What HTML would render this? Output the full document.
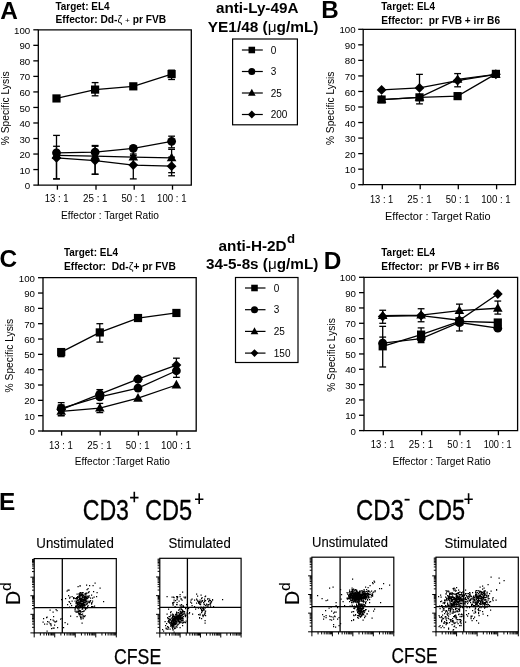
<!DOCTYPE html><html><head><meta charset="utf-8"><style>html,body{margin:0;padding:0;background:#fff;width:520px;height:667px;overflow:hidden}svg{display:block;filter:grayscale(1)}</style></head><body><svg width="520" height="667" viewBox="0 0 520 667" font-family="'Liberation Sans', sans-serif" fill="#000">
<rect width="520" height="667" fill="#fff"/>
<path d="M38.3,29.8H191.3V185.1H38.3Z" fill="none" stroke="#000" stroke-width="1.3"/>
<line x1="33.3" y1="185.10" x2="38.3" y2="185.10" stroke="#000" stroke-width="1.3"/>
<text x="30.2" y="189.2" font-size="9.7" text-anchor="end" >0</text>
<line x1="33.3" y1="169.57" x2="38.3" y2="169.57" stroke="#000" stroke-width="1.3"/>
<text x="30.2" y="173.67" font-size="9.7" text-anchor="end" >10</text>
<line x1="33.3" y1="154.04" x2="38.3" y2="154.04" stroke="#000" stroke-width="1.3"/>
<text x="30.2" y="158.14" font-size="9.7" text-anchor="end" >20</text>
<line x1="33.3" y1="138.51" x2="38.3" y2="138.51" stroke="#000" stroke-width="1.3"/>
<text x="30.2" y="142.61" font-size="9.7" text-anchor="end" >30</text>
<line x1="33.3" y1="122.98" x2="38.3" y2="122.98" stroke="#000" stroke-width="1.3"/>
<text x="30.2" y="127.08" font-size="9.7" text-anchor="end" >40</text>
<line x1="33.3" y1="107.45" x2="38.3" y2="107.45" stroke="#000" stroke-width="1.3"/>
<text x="30.2" y="111.55" font-size="9.7" text-anchor="end" >50</text>
<line x1="33.3" y1="91.92" x2="38.3" y2="91.92" stroke="#000" stroke-width="1.3"/>
<text x="30.2" y="96.02" font-size="9.7" text-anchor="end" >60</text>
<line x1="33.3" y1="76.39" x2="38.3" y2="76.39" stroke="#000" stroke-width="1.3"/>
<text x="30.2" y="80.49" font-size="9.7" text-anchor="end" >70</text>
<line x1="33.3" y1="60.86" x2="38.3" y2="60.86" stroke="#000" stroke-width="1.3"/>
<text x="30.2" y="64.96" font-size="9.7" text-anchor="end" >80</text>
<line x1="33.3" y1="45.33" x2="38.3" y2="45.33" stroke="#000" stroke-width="1.3"/>
<text x="30.2" y="49.43" font-size="9.7" text-anchor="end" >90</text>
<line x1="33.3" y1="29.80" x2="38.3" y2="29.80" stroke="#000" stroke-width="1.3"/>
<text x="30.2" y="33.9" font-size="9.7" text-anchor="end" >100</text>
<line x1="57.4" y1="185.1" x2="57.4" y2="189.7" stroke="#000" stroke-width="1.3"/>
<text x="56.7" y="202.2" font-size="10" text-anchor="middle" textLength="23.9" lengthAdjust="spacingAndGlyphs" >13 : 1</text>
<line x1="96.0" y1="185.1" x2="96.0" y2="189.7" stroke="#000" stroke-width="1.3"/>
<text x="95.3" y="202.2" font-size="10" text-anchor="middle" textLength="24.5" lengthAdjust="spacingAndGlyphs" >25 : 1</text>
<line x1="134.2" y1="185.1" x2="134.2" y2="189.7" stroke="#000" stroke-width="1.3"/>
<text x="133.5" y="202.2" font-size="10" text-anchor="middle" textLength="23.9" lengthAdjust="spacingAndGlyphs" >50 : 1</text>
<line x1="172.5" y1="185.1" x2="172.5" y2="189.7" stroke="#000" stroke-width="1.3"/>
<text x="171.8" y="202.2" font-size="10" text-anchor="middle" textLength="29.4" lengthAdjust="spacingAndGlyphs" >100 : 1</text>
<text x="61" y="219" font-size="10" text-anchor="start" textLength="98" lengthAdjust="spacingAndGlyphs" >Effector : Target Ratio</text>
<text transform="translate(9.4,108.4) rotate(-90)" font-size="10.2" text-anchor="middle" textLength="73.9" lengthAdjust="spacingAndGlyphs">% Specific Lysis</text>
<path d="M56.50,98.44L95.10,89.59L133.30,86.33L171.60,74.06" fill="none" stroke="#000" stroke-width="1.3"/>
<line x1="95.10" y1="82.60" x2="95.10" y2="95.80" stroke="#000" stroke-width="1.3"/>
<line x1="91.70" y1="82.60" x2="98.50" y2="82.60" stroke="#000" stroke-width="1.3"/>
<line x1="91.70" y1="95.80" x2="98.50" y2="95.80" stroke="#000" stroke-width="1.3"/>
<line x1="171.60" y1="70.18" x2="171.60" y2="79.50" stroke="#000" stroke-width="1.3"/>
<line x1="168.20" y1="70.18" x2="175.00" y2="70.18" stroke="#000" stroke-width="1.3"/>
<line x1="168.20" y1="79.50" x2="175.00" y2="79.50" stroke="#000" stroke-width="1.3"/>
<rect x="52.40" y="94.34" width="8.20" height="8.20"/>
<rect x="91.00" y="85.49" width="8.20" height="8.20"/>
<rect x="129.20" y="82.23" width="8.20" height="8.20"/>
<rect x="167.50" y="69.96" width="8.20" height="8.20"/>
<path d="M56.50,152.80L95.10,152.18L133.30,148.29L171.60,141.31" fill="none" stroke="#000" stroke-width="1.3"/>
<line x1="56.50" y1="135.40" x2="56.50" y2="152.80" stroke="#000" stroke-width="1.3"/>
<line x1="53.10" y1="135.40" x2="59.90" y2="135.40" stroke="#000" stroke-width="1.3"/>
<line x1="95.10" y1="145.50" x2="95.10" y2="160.25" stroke="#000" stroke-width="1.3"/>
<line x1="91.70" y1="145.50" x2="98.50" y2="145.50" stroke="#000" stroke-width="1.3"/>
<line x1="91.70" y1="160.25" x2="98.50" y2="160.25" stroke="#000" stroke-width="1.3"/>
<line x1="133.30" y1="146.28" x2="133.30" y2="154.04" stroke="#000" stroke-width="1.3"/>
<line x1="129.90" y1="146.28" x2="136.70" y2="146.28" stroke="#000" stroke-width="1.3"/>
<line x1="129.90" y1="154.04" x2="136.70" y2="154.04" stroke="#000" stroke-width="1.3"/>
<line x1="171.60" y1="136.18" x2="171.60" y2="147.83" stroke="#000" stroke-width="1.3"/>
<line x1="168.20" y1="136.18" x2="175.00" y2="136.18" stroke="#000" stroke-width="1.3"/>
<line x1="168.20" y1="147.83" x2="175.00" y2="147.83" stroke="#000" stroke-width="1.3"/>
<circle cx="56.50" cy="152.80" r="4.40"/>
<circle cx="95.10" cy="152.18" r="4.40"/>
<circle cx="133.30" cy="148.29" r="4.40"/>
<circle cx="171.60" cy="141.31" r="4.40"/>
<path d="M56.50,155.28L95.10,156.21L133.30,157.15L171.60,157.92" fill="none" stroke="#000" stroke-width="1.3"/>
<line x1="56.50" y1="146.28" x2="56.50" y2="178.89" stroke="#000" stroke-width="1.3"/>
<line x1="53.10" y1="146.28" x2="59.90" y2="146.28" stroke="#000" stroke-width="1.3"/>
<line x1="53.10" y1="178.89" x2="59.90" y2="178.89" stroke="#000" stroke-width="1.3"/>
<line x1="95.10" y1="146.28" x2="95.10" y2="174.23" stroke="#000" stroke-width="1.3"/>
<line x1="91.70" y1="146.28" x2="98.50" y2="146.28" stroke="#000" stroke-width="1.3"/>
<line x1="91.70" y1="174.23" x2="98.50" y2="174.23" stroke="#000" stroke-width="1.3"/>
<line x1="171.60" y1="149.38" x2="171.60" y2="172.68" stroke="#000" stroke-width="1.3"/>
<line x1="168.20" y1="149.38" x2="175.00" y2="149.38" stroke="#000" stroke-width="1.3"/>
<line x1="168.20" y1="172.68" x2="175.00" y2="172.68" stroke="#000" stroke-width="1.3"/>
<path d="M51.70,158.72L61.30,158.72L56.50,150.12Z"/>
<path d="M90.30,159.65L99.90,159.65L95.10,151.05Z"/>
<path d="M128.50,160.59L138.10,160.59L133.30,151.99Z"/>
<path d="M166.80,161.36L176.40,161.36L171.60,152.76Z"/>
<path d="M56.50,157.92L95.10,160.56L133.30,165.07L171.60,166.15" fill="none" stroke="#000" stroke-width="1.3"/>
<line x1="56.50" y1="150.93" x2="56.50" y2="178.89" stroke="#000" stroke-width="1.3"/>
<line x1="53.10" y1="150.93" x2="59.90" y2="150.93" stroke="#000" stroke-width="1.3"/>
<line x1="53.10" y1="178.89" x2="59.90" y2="178.89" stroke="#000" stroke-width="1.3"/>
<line x1="95.10" y1="150.93" x2="95.10" y2="174.23" stroke="#000" stroke-width="1.3"/>
<line x1="91.70" y1="150.93" x2="98.50" y2="150.93" stroke="#000" stroke-width="1.3"/>
<line x1="91.70" y1="174.23" x2="98.50" y2="174.23" stroke="#000" stroke-width="1.3"/>
<line x1="133.30" y1="155.59" x2="133.30" y2="178.89" stroke="#000" stroke-width="1.3"/>
<line x1="129.90" y1="155.59" x2="136.70" y2="155.59" stroke="#000" stroke-width="1.3"/>
<line x1="129.90" y1="178.89" x2="136.70" y2="178.89" stroke="#000" stroke-width="1.3"/>
<line x1="171.60" y1="157.15" x2="171.60" y2="175.78" stroke="#000" stroke-width="1.3"/>
<line x1="168.20" y1="157.15" x2="175.00" y2="157.15" stroke="#000" stroke-width="1.3"/>
<line x1="168.20" y1="175.78" x2="175.00" y2="175.78" stroke="#000" stroke-width="1.3"/>
<path d="M56.50,153.02L61.40,157.92L56.50,162.82L51.60,157.92Z"/>
<path d="M95.10,155.66L100.00,160.56L95.10,165.46L90.20,160.56Z"/>
<path d="M133.30,160.17L138.20,165.07L133.30,169.97L128.40,165.07Z"/>
<path d="M171.60,161.25L176.50,166.15L171.60,171.05L166.70,166.15Z"/>
<path d="M363.2,29.3H515.4V184.7H363.2Z" fill="none" stroke="#000" stroke-width="1.3"/>
<line x1="358.2" y1="184.70" x2="363.2" y2="184.70" stroke="#000" stroke-width="1.3"/>
<text x="355.6" y="188.8" font-size="9.7" text-anchor="end" >0</text>
<line x1="358.2" y1="169.16" x2="363.2" y2="169.16" stroke="#000" stroke-width="1.3"/>
<text x="355.6" y="173.26" font-size="9.7" text-anchor="end" >10</text>
<line x1="358.2" y1="153.62" x2="363.2" y2="153.62" stroke="#000" stroke-width="1.3"/>
<text x="355.6" y="157.72" font-size="9.7" text-anchor="end" >20</text>
<line x1="358.2" y1="138.08" x2="363.2" y2="138.08" stroke="#000" stroke-width="1.3"/>
<text x="355.6" y="142.18" font-size="9.7" text-anchor="end" >30</text>
<line x1="358.2" y1="122.54" x2="363.2" y2="122.54" stroke="#000" stroke-width="1.3"/>
<text x="355.6" y="126.64" font-size="9.7" text-anchor="end" >40</text>
<line x1="358.2" y1="107.00" x2="363.2" y2="107.00" stroke="#000" stroke-width="1.3"/>
<text x="355.6" y="111.1" font-size="9.7" text-anchor="end" >50</text>
<line x1="358.2" y1="91.46" x2="363.2" y2="91.46" stroke="#000" stroke-width="1.3"/>
<text x="355.6" y="95.56" font-size="9.7" text-anchor="end" >60</text>
<line x1="358.2" y1="75.92" x2="363.2" y2="75.92" stroke="#000" stroke-width="1.3"/>
<text x="355.6" y="80.02" font-size="9.7" text-anchor="end" >70</text>
<line x1="358.2" y1="60.38" x2="363.2" y2="60.38" stroke="#000" stroke-width="1.3"/>
<text x="355.6" y="64.48" font-size="9.7" text-anchor="end" >80</text>
<line x1="358.2" y1="44.84" x2="363.2" y2="44.84" stroke="#000" stroke-width="1.3"/>
<text x="355.6" y="48.94" font-size="9.7" text-anchor="end" >90</text>
<line x1="358.2" y1="29.30" x2="363.2" y2="29.30" stroke="#000" stroke-width="1.3"/>
<text x="355.6" y="33.4" font-size="9.7" text-anchor="end" >100</text>
<line x1="382.3" y1="184.7" x2="382.3" y2="189.29999999999998" stroke="#000" stroke-width="1.3"/>
<text x="381.6" y="202.6" font-size="10" text-anchor="middle" textLength="23.3" lengthAdjust="spacingAndGlyphs" >13 : 1</text>
<line x1="420.2" y1="184.7" x2="420.2" y2="189.29999999999998" stroke="#000" stroke-width="1.3"/>
<text x="419.5" y="202.6" font-size="10" text-anchor="middle" textLength="24.5" lengthAdjust="spacingAndGlyphs" >25 : 1</text>
<line x1="458.3" y1="184.7" x2="458.3" y2="189.29999999999998" stroke="#000" stroke-width="1.3"/>
<text x="457.6" y="202.6" font-size="10" text-anchor="middle" textLength="23.9" lengthAdjust="spacingAndGlyphs" >50 : 1</text>
<line x1="496.6" y1="184.7" x2="496.6" y2="189.29999999999998" stroke="#000" stroke-width="1.3"/>
<text x="495.9" y="202.6" font-size="10" text-anchor="middle" textLength="29.4" lengthAdjust="spacingAndGlyphs" >100 : 1</text>
<text x="385.0" y="220.0" font-size="10.9" text-anchor="start" textLength="105.6" lengthAdjust="spacingAndGlyphs" >Effector : Target Ratio</text>
<text transform="translate(333.9,108.3) rotate(-90)" font-size="10.2" text-anchor="middle" textLength="73.6" lengthAdjust="spacingAndGlyphs">% Specific Lysis</text>
<path d="M381.60,89.91L419.50,87.89L457.60,80.58L495.90,74.37" fill="none" stroke="#000" stroke-width="1.3"/>
<line x1="419.50" y1="74.37" x2="419.50" y2="87.89" stroke="#000" stroke-width="1.3"/>
<line x1="416.10" y1="74.37" x2="422.90" y2="74.37" stroke="#000" stroke-width="1.3"/>
<path d="M381.60,85.01L386.50,89.91L381.60,94.81L376.70,89.91Z"/>
<path d="M419.50,82.99L424.40,87.89L419.50,92.79L414.60,87.89Z"/>
<path d="M457.60,75.68L462.50,80.58L457.60,85.48L452.70,80.58Z"/>
<path d="M495.90,69.47L500.80,74.37L495.90,79.27L491.00,74.37Z"/>
<path d="M381.60,99.54L419.50,97.37L457.60,79.34L495.90,74.37" fill="none" stroke="#000" stroke-width="1.3"/>
<line x1="457.60" y1="73.59" x2="457.60" y2="86.80" stroke="#000" stroke-width="1.3"/>
<line x1="454.20" y1="73.59" x2="461.00" y2="73.59" stroke="#000" stroke-width="1.3"/>
<line x1="454.20" y1="86.80" x2="461.00" y2="86.80" stroke="#000" stroke-width="1.3"/>
<path d="M376.80,102.98L386.40,102.98L381.60,94.38Z"/>
<path d="M414.70,100.81L424.30,100.81L419.50,92.21Z"/>
<path d="M452.80,82.78L462.40,82.78L457.60,74.18Z"/>
<path d="M491.10,77.81L500.70,77.81L495.90,69.21Z"/>
<path d="M381.60,99.54L419.50,97.37L457.60,96.12L495.90,73.90" fill="none" stroke="#000" stroke-width="1.3"/>
<line x1="419.50" y1="97.37" x2="419.50" y2="103.89" stroke="#000" stroke-width="1.3"/>
<line x1="416.10" y1="103.89" x2="422.90" y2="103.89" stroke="#000" stroke-width="1.3"/>
<rect x="377.50" y="95.44" width="8.20" height="8.20"/>
<rect x="415.40" y="93.27" width="8.20" height="8.20"/>
<rect x="453.50" y="92.02" width="8.20" height="8.20"/>
<rect x="491.80" y="69.80" width="8.20" height="8.20"/>
<path d="M43.0,277.7H196.2V431.0H43.0Z" fill="none" stroke="#000" stroke-width="1.3"/>
<line x1="38.0" y1="431.00" x2="43.0" y2="431.00" stroke="#000" stroke-width="1.3"/>
<text x="35.0" y="435.1" font-size="9.7" text-anchor="end" >0</text>
<line x1="38.0" y1="415.67" x2="43.0" y2="415.67" stroke="#000" stroke-width="1.3"/>
<text x="35.0" y="419.77" font-size="9.7" text-anchor="end" >10</text>
<line x1="38.0" y1="400.34" x2="43.0" y2="400.34" stroke="#000" stroke-width="1.3"/>
<text x="35.0" y="404.44" font-size="9.7" text-anchor="end" >20</text>
<line x1="38.0" y1="385.01" x2="43.0" y2="385.01" stroke="#000" stroke-width="1.3"/>
<text x="35.0" y="389.11" font-size="9.7" text-anchor="end" >30</text>
<line x1="38.0" y1="369.68" x2="43.0" y2="369.68" stroke="#000" stroke-width="1.3"/>
<text x="35.0" y="373.78" font-size="9.7" text-anchor="end" >40</text>
<line x1="38.0" y1="354.35" x2="43.0" y2="354.35" stroke="#000" stroke-width="1.3"/>
<text x="35.0" y="358.45" font-size="9.7" text-anchor="end" >50</text>
<line x1="38.0" y1="339.02" x2="43.0" y2="339.02" stroke="#000" stroke-width="1.3"/>
<text x="35.0" y="343.12" font-size="9.7" text-anchor="end" >60</text>
<line x1="38.0" y1="323.69" x2="43.0" y2="323.69" stroke="#000" stroke-width="1.3"/>
<text x="35.0" y="327.79" font-size="9.7" text-anchor="end" >70</text>
<line x1="38.0" y1="308.36" x2="43.0" y2="308.36" stroke="#000" stroke-width="1.3"/>
<text x="35.0" y="312.46" font-size="9.7" text-anchor="end" >80</text>
<line x1="38.0" y1="293.03" x2="43.0" y2="293.03" stroke="#000" stroke-width="1.3"/>
<text x="35.0" y="297.13" font-size="9.7" text-anchor="end" >90</text>
<line x1="38.0" y1="277.70" x2="43.0" y2="277.70" stroke="#000" stroke-width="1.3"/>
<text x="35.0" y="281.8" font-size="9.7" text-anchor="end" >100</text>
<line x1="61.6" y1="431.0" x2="61.6" y2="435.6" stroke="#000" stroke-width="1.3"/>
<text x="60.9" y="448.6" font-size="10" text-anchor="middle" textLength="23.9" lengthAdjust="spacingAndGlyphs" >13 : 1</text>
<line x1="100.2" y1="431.0" x2="100.2" y2="435.6" stroke="#000" stroke-width="1.3"/>
<text x="99.5" y="448.6" font-size="10" text-anchor="middle" textLength="24.5" lengthAdjust="spacingAndGlyphs" >25 : 1</text>
<line x1="138.4" y1="431.0" x2="138.4" y2="435.6" stroke="#000" stroke-width="1.3"/>
<text x="137.7" y="448.6" font-size="10" text-anchor="middle" textLength="23.9" lengthAdjust="spacingAndGlyphs" >50 : 1</text>
<line x1="176.8" y1="431.0" x2="176.8" y2="435.6" stroke="#000" stroke-width="1.3"/>
<text x="176.1" y="448.6" font-size="10" text-anchor="middle" textLength="30.1" lengthAdjust="spacingAndGlyphs" >100 : 1</text>
<text x="74.8" y="465.0" font-size="10" text-anchor="start" textLength="95.1" lengthAdjust="spacingAndGlyphs" >Effector :Target Ratio</text>
<text transform="translate(13.1,355.6) rotate(-90)" font-size="10.2" text-anchor="middle" textLength="73.6" lengthAdjust="spacingAndGlyphs">% Specific Lysis</text>
<path d="M61.20,352.05L99.80,332.43L138.00,318.02L176.40,312.96" fill="none" stroke="#000" stroke-width="1.3"/>
<line x1="61.20" y1="352.05" x2="61.20" y2="356.65" stroke="#000" stroke-width="1.3"/>
<line x1="57.80" y1="356.65" x2="64.60" y2="356.65" stroke="#000" stroke-width="1.3"/>
<line x1="99.80" y1="323.69" x2="99.80" y2="342.09" stroke="#000" stroke-width="1.3"/>
<line x1="96.40" y1="323.69" x2="103.20" y2="323.69" stroke="#000" stroke-width="1.3"/>
<line x1="96.40" y1="342.09" x2="103.20" y2="342.09" stroke="#000" stroke-width="1.3"/>
<rect x="57.10" y="347.95" width="8.20" height="8.20"/>
<rect x="95.70" y="328.33" width="8.20" height="8.20"/>
<rect x="133.90" y="313.92" width="8.20" height="8.20"/>
<rect x="172.30" y="308.86" width="8.20" height="8.20"/>
<path d="M61.20,411.38L99.80,408.16L138.00,398.19L176.40,385.01" fill="none" stroke="#000" stroke-width="1.3"/>
<line x1="61.20" y1="404.94" x2="61.20" y2="415.67" stroke="#000" stroke-width="1.3"/>
<line x1="57.80" y1="404.94" x2="64.60" y2="404.94" stroke="#000" stroke-width="1.3"/>
<line x1="57.80" y1="415.67" x2="64.60" y2="415.67" stroke="#000" stroke-width="1.3"/>
<line x1="99.80" y1="403.41" x2="99.80" y2="412.60" stroke="#000" stroke-width="1.3"/>
<line x1="96.40" y1="403.41" x2="103.20" y2="403.41" stroke="#000" stroke-width="1.3"/>
<line x1="96.40" y1="412.60" x2="103.20" y2="412.60" stroke="#000" stroke-width="1.3"/>
<path d="M56.40,414.82L66.00,414.82L61.20,406.22Z"/>
<path d="M95.00,411.60L104.60,411.60L99.80,403.00Z"/>
<path d="M133.20,401.63L142.80,401.63L138.00,393.03Z"/>
<path d="M171.60,388.45L181.20,388.45L176.40,379.85Z"/>
<path d="M61.20,409.54L99.80,394.21L138.00,379.18L176.40,365.08" fill="none" stroke="#000" stroke-width="1.3"/>
<line x1="176.40" y1="358.18" x2="176.40" y2="369.68" stroke="#000" stroke-width="1.3"/>
<line x1="173.00" y1="358.18" x2="179.80" y2="358.18" stroke="#000" stroke-width="1.3"/>
<line x1="173.00" y1="369.68" x2="179.80" y2="369.68" stroke="#000" stroke-width="1.3"/>
<path d="M61.20,404.64L66.10,409.54L61.20,414.44L56.30,409.54Z"/>
<path d="M99.80,389.31L104.70,394.21L99.80,399.11L94.90,394.21Z"/>
<path d="M138.00,374.28L142.90,379.18L138.00,384.08L133.10,379.18Z"/>
<path d="M176.40,360.18L181.30,365.08L176.40,369.98L171.50,365.08Z"/>
<path d="M61.20,408.46L99.80,396.97L138.00,388.08L176.40,370.75" fill="none" stroke="#000" stroke-width="1.3"/>
<line x1="61.20" y1="402.64" x2="61.20" y2="415.67" stroke="#000" stroke-width="1.3"/>
<line x1="57.80" y1="402.64" x2="64.60" y2="402.64" stroke="#000" stroke-width="1.3"/>
<line x1="57.80" y1="415.67" x2="64.60" y2="415.67" stroke="#000" stroke-width="1.3"/>
<line x1="99.80" y1="389.61" x2="99.80" y2="398.81" stroke="#000" stroke-width="1.3"/>
<line x1="96.40" y1="389.61" x2="103.20" y2="389.61" stroke="#000" stroke-width="1.3"/>
<line x1="96.40" y1="398.81" x2="103.20" y2="398.81" stroke="#000" stroke-width="1.3"/>
<line x1="176.40" y1="370.75" x2="176.40" y2="377.35" stroke="#000" stroke-width="1.3"/>
<line x1="173.00" y1="377.35" x2="179.80" y2="377.35" stroke="#000" stroke-width="1.3"/>
<circle cx="61.20" cy="408.46" r="4.40"/>
<circle cx="99.80" cy="396.97" r="4.40"/>
<circle cx="138.00" cy="388.08" r="4.40"/>
<circle cx="176.40" cy="370.75" r="4.40"/>
<circle cx="99.80" cy="394.21" r="4.40"/>
<circle cx="138.00" cy="379.18" r="4.40"/>
<path d="M364.0,277.3H517.6V430.6H364.0Z" fill="none" stroke="#000" stroke-width="1.3"/>
<line x1="359.0" y1="430.60" x2="364.0" y2="430.60" stroke="#000" stroke-width="1.3"/>
<text x="356.0" y="434.7" font-size="9.7" text-anchor="end" >0</text>
<line x1="359.0" y1="415.27" x2="364.0" y2="415.27" stroke="#000" stroke-width="1.3"/>
<text x="356.0" y="419.37" font-size="9.7" text-anchor="end" >10</text>
<line x1="359.0" y1="399.94" x2="364.0" y2="399.94" stroke="#000" stroke-width="1.3"/>
<text x="356.0" y="404.04" font-size="9.7" text-anchor="end" >20</text>
<line x1="359.0" y1="384.61" x2="364.0" y2="384.61" stroke="#000" stroke-width="1.3"/>
<text x="356.0" y="388.71" font-size="9.7" text-anchor="end" >30</text>
<line x1="359.0" y1="369.28" x2="364.0" y2="369.28" stroke="#000" stroke-width="1.3"/>
<text x="356.0" y="373.38" font-size="9.7" text-anchor="end" >40</text>
<line x1="359.0" y1="353.95" x2="364.0" y2="353.95" stroke="#000" stroke-width="1.3"/>
<text x="356.0" y="358.05" font-size="9.7" text-anchor="end" >50</text>
<line x1="359.0" y1="338.62" x2="364.0" y2="338.62" stroke="#000" stroke-width="1.3"/>
<text x="356.0" y="342.72" font-size="9.7" text-anchor="end" >60</text>
<line x1="359.0" y1="323.29" x2="364.0" y2="323.29" stroke="#000" stroke-width="1.3"/>
<text x="356.0" y="327.39" font-size="9.7" text-anchor="end" >70</text>
<line x1="359.0" y1="307.96" x2="364.0" y2="307.96" stroke="#000" stroke-width="1.3"/>
<text x="356.0" y="312.06" font-size="9.7" text-anchor="end" >80</text>
<line x1="359.0" y1="292.63" x2="364.0" y2="292.63" stroke="#000" stroke-width="1.3"/>
<text x="356.0" y="296.73" font-size="9.7" text-anchor="end" >90</text>
<line x1="359.0" y1="277.30" x2="364.0" y2="277.30" stroke="#000" stroke-width="1.3"/>
<text x="356.0" y="281.4" font-size="9.7" text-anchor="end" >100</text>
<line x1="383.3" y1="430.6" x2="383.3" y2="435.20000000000005" stroke="#000" stroke-width="1.3"/>
<text x="382.6" y="448.0" font-size="10" text-anchor="middle" textLength="23.8" lengthAdjust="spacingAndGlyphs" >13 : 1</text>
<line x1="421.7" y1="430.6" x2="421.7" y2="435.20000000000005" stroke="#000" stroke-width="1.3"/>
<text x="421.0" y="448.0" font-size="10" text-anchor="middle" textLength="24.5" lengthAdjust="spacingAndGlyphs" >25 : 1</text>
<line x1="460.0" y1="430.6" x2="460.0" y2="435.20000000000005" stroke="#000" stroke-width="1.3"/>
<text x="459.3" y="448.0" font-size="10" text-anchor="middle" textLength="23.9" lengthAdjust="spacingAndGlyphs" >50 : 1</text>
<line x1="498.4" y1="430.6" x2="498.4" y2="435.20000000000005" stroke="#000" stroke-width="1.3"/>
<text x="497.7" y="448.0" font-size="10" text-anchor="middle" textLength="28.1" lengthAdjust="spacingAndGlyphs" >100 : 1</text>
<text x="392.5" y="465.0" font-size="10" text-anchor="start" textLength="98.1" lengthAdjust="spacingAndGlyphs" >Effector : Target Ratio</text>
<text transform="translate(335.3,355.0) rotate(-90)" font-size="10.2" text-anchor="middle" textLength="73.7" lengthAdjust="spacingAndGlyphs">% Specific Lysis</text>
<path d="M382.70,346.29L421.10,334.63L459.40,321.30L497.80,322.52" fill="none" stroke="#000" stroke-width="1.3"/>
<line x1="382.70" y1="326.36" x2="382.70" y2="366.98" stroke="#000" stroke-width="1.3"/>
<line x1="379.30" y1="326.36" x2="386.10" y2="326.36" stroke="#000" stroke-width="1.3"/>
<line x1="379.30" y1="366.98" x2="386.10" y2="366.98" stroke="#000" stroke-width="1.3"/>
<line x1="421.10" y1="327.89" x2="421.10" y2="342.61" stroke="#000" stroke-width="1.3"/>
<line x1="417.70" y1="327.89" x2="424.50" y2="327.89" stroke="#000" stroke-width="1.3"/>
<line x1="417.70" y1="342.61" x2="424.50" y2="342.61" stroke="#000" stroke-width="1.3"/>
<line x1="459.40" y1="312.56" x2="459.40" y2="330.96" stroke="#000" stroke-width="1.3"/>
<line x1="456.00" y1="312.56" x2="462.80" y2="312.56" stroke="#000" stroke-width="1.3"/>
<line x1="456.00" y1="330.96" x2="462.80" y2="330.96" stroke="#000" stroke-width="1.3"/>
<rect x="378.60" y="342.19" width="8.20" height="8.20"/>
<rect x="417.00" y="330.53" width="8.20" height="8.20"/>
<rect x="455.30" y="317.20" width="8.20" height="8.20"/>
<rect x="493.70" y="318.42" width="8.20" height="8.20"/>
<path d="M382.70,343.22L421.10,338.62L459.40,322.52L497.80,328.20" fill="none" stroke="#000" stroke-width="1.3"/>
<line x1="382.70" y1="337.09" x2="382.70" y2="343.22" stroke="#000" stroke-width="1.3"/>
<line x1="379.30" y1="337.09" x2="386.10" y2="337.09" stroke="#000" stroke-width="1.3"/>
<circle cx="382.70" cy="343.22" r="4.40"/>
<circle cx="421.10" cy="338.62" r="4.40"/>
<circle cx="459.40" cy="322.52" r="4.40"/>
<circle cx="497.80" cy="328.20" r="4.40"/>
<path d="M382.70,315.62L421.10,315.17L459.40,310.57L497.80,308.27" fill="none" stroke="#000" stroke-width="1.3"/>
<line x1="382.70" y1="310.26" x2="382.70" y2="323.29" stroke="#000" stroke-width="1.3"/>
<line x1="379.30" y1="310.26" x2="386.10" y2="310.26" stroke="#000" stroke-width="1.3"/>
<line x1="379.30" y1="323.29" x2="386.10" y2="323.29" stroke="#000" stroke-width="1.3"/>
<line x1="421.10" y1="308.73" x2="421.10" y2="321.76" stroke="#000" stroke-width="1.3"/>
<line x1="417.70" y1="308.73" x2="424.50" y2="308.73" stroke="#000" stroke-width="1.3"/>
<line x1="417.70" y1="321.76" x2="424.50" y2="321.76" stroke="#000" stroke-width="1.3"/>
<line x1="459.40" y1="304.13" x2="459.40" y2="320.22" stroke="#000" stroke-width="1.3"/>
<line x1="456.00" y1="304.13" x2="462.80" y2="304.13" stroke="#000" stroke-width="1.3"/>
<line x1="456.00" y1="320.22" x2="462.80" y2="320.22" stroke="#000" stroke-width="1.3"/>
<line x1="497.80" y1="301.06" x2="497.80" y2="314.09" stroke="#000" stroke-width="1.3"/>
<line x1="494.40" y1="301.06" x2="501.20" y2="301.06" stroke="#000" stroke-width="1.3"/>
<line x1="494.40" y1="314.09" x2="501.20" y2="314.09" stroke="#000" stroke-width="1.3"/>
<path d="M377.90,319.06L387.50,319.06L382.70,310.46Z"/>
<path d="M416.30,318.61L425.90,318.61L421.10,310.01Z"/>
<path d="M454.60,314.01L464.20,314.01L459.40,305.41Z"/>
<path d="M493.00,311.71L502.60,311.71L497.80,303.11Z"/>
<path d="M382.70,316.39L421.10,315.62L459.40,320.22L497.80,294.01" fill="none" stroke="#000" stroke-width="1.3"/>
<path d="M382.70,311.49L387.60,316.39L382.70,321.29L377.80,316.39Z"/>
<path d="M421.10,310.73L426.00,315.62L421.10,320.52L416.20,315.62Z"/>
<path d="M459.40,315.32L464.30,320.22L459.40,325.12L454.50,320.22Z"/>
<path d="M497.80,289.11L502.70,294.01L497.80,298.91L492.90,294.01Z"/>
<text x="0.3" y="18.5" font-size="24.4" font-weight="bold" text-anchor="start" >A</text>
<text x="321.3" y="18.3" font-size="24.2" font-weight="bold" text-anchor="start" >B</text>
<text x="-0.6" y="267.0" font-size="24.4" font-weight="bold" text-anchor="start" >C</text>
<text x="323.7" y="268.6" font-size="24.4" font-weight="bold" text-anchor="start" >D</text>
<text x="-0.9" y="510.3" font-size="24.4" font-weight="bold" text-anchor="start" >E</text>
<text x="55.5" y="9.6" font-size="10" font-weight="bold" text-anchor="start" textLength="54" lengthAdjust="spacingAndGlyphs" >Target: EL4</text>
<text x="55.5" y="22.7" font-size="10" font-weight="bold" textLength="110.7" lengthAdjust="spacingAndGlyphs">Effector: Dd-<tspan font-weight="normal" font-size="10.5">&#950;</tspan> <tspan font-weight="normal" font-size="8">+</tspan> pr FVB</text>
<text x="381.3" y="10.2" font-size="10" font-weight="bold" text-anchor="start" textLength="53.8" lengthAdjust="spacingAndGlyphs" >Target: EL4</text>
<text x="381.3" y="23.6" font-size="10" font-weight="bold" text-anchor="start" textLength="118.8" lengthAdjust="spacingAndGlyphs" >Effector:&#160; pr FVB + irr B6</text>
<text x="64" y="255.8" font-size="10" font-weight="bold" text-anchor="start" textLength="54" lengthAdjust="spacingAndGlyphs" >Target: EL4</text>
<text x="64" y="269.8" font-size="10" font-weight="bold" textLength="111.8" lengthAdjust="spacingAndGlyphs">Effector:&#160; Dd-<tspan font-weight="normal" font-size="10.5">&#950;</tspan>+ pr FVB</text>
<text x="381.3" y="256.4" font-size="10" font-weight="bold" text-anchor="start" textLength="53.8" lengthAdjust="spacingAndGlyphs" >Target: EL4</text>
<text x="381.3" y="270.2" font-size="10" font-weight="bold" text-anchor="start" textLength="118" lengthAdjust="spacingAndGlyphs" >Effector:&#160; pr FVB + irr B6</text>
<text x="216" y="12.7" font-size="15" font-weight="bold" text-anchor="start" textLength="82.4" lengthAdjust="spacingAndGlyphs" >anti-Ly-49A</text>
<text x="207.8" y="32.2" font-size="15" font-weight="bold" textLength="110.7" lengthAdjust="spacingAndGlyphs">YE1/48 (<tspan font-weight="normal">&#956;</tspan>g/mL)</text>
<text x="218.6" y="250.9" font-size="15.3" font-weight="bold">anti-H-2D<tspan font-size="13.2" dx="0.3" dy="-8.2">d</tspan></text>
<text x="206" y="269.3" font-size="15" font-weight="bold" textLength="112.3" lengthAdjust="spacingAndGlyphs">34-5-8s (<tspan font-weight="normal">&#956;</tspan>g/mL)</text>
<rect x="232.6" y="39" width="64.79999999999998" height="85.8" fill="none" stroke="#000" stroke-width="1.2"/>
<line x1="241.9" y1="50.0" x2="262.8" y2="50.0" stroke="#000" stroke-width="1.2"/>
<rect x="248.52" y="46.72" width="6.56" height="6.56"/>
<text x="270.7" y="53.6" font-size="10" text-anchor="start" >0</text>
<line x1="241.9" y1="71.5" x2="262.8" y2="71.5" stroke="#000" stroke-width="1.2"/>
<circle cx="251.80" cy="71.50" r="3.52"/>
<text x="270.7" y="75.1" font-size="10" text-anchor="start" >3</text>
<line x1="241.9" y1="93.0" x2="262.8" y2="93.0" stroke="#000" stroke-width="1.2"/>
<path d="M247.96,95.75L255.64,95.75L251.80,88.87Z"/>
<text x="270.7" y="96.6" font-size="10" text-anchor="start" >25</text>
<line x1="241.9" y1="114.5" x2="262.8" y2="114.5" stroke="#000" stroke-width="1.2"/>
<path d="M251.80,110.58L255.72,114.50L251.80,118.42L247.88,114.50Z"/>
<text x="270.7" y="118.1" font-size="10" text-anchor="start" >200</text>
<rect x="235.5" y="277.5" width="62.5" height="85.0" fill="none" stroke="#000" stroke-width="1.2"/>
<line x1="245" y1="288.0" x2="265.5" y2="288.0" stroke="#000" stroke-width="1.2"/>
<rect x="251.22" y="284.72" width="6.56" height="6.56"/>
<text x="273.8" y="291.6" font-size="10" text-anchor="start" >0</text>
<line x1="245" y1="309.7" x2="265.5" y2="309.7" stroke="#000" stroke-width="1.2"/>
<circle cx="254.50" cy="309.70" r="3.52"/>
<text x="273.8" y="313.3" font-size="10" text-anchor="start" >3</text>
<line x1="245" y1="331.4" x2="265.5" y2="331.4" stroke="#000" stroke-width="1.2"/>
<path d="M250.66,334.15L258.34,334.15L254.50,327.27Z"/>
<text x="273.8" y="335.0" font-size="10" text-anchor="start" >25</text>
<line x1="245" y1="353.1" x2="265.5" y2="353.1" stroke="#000" stroke-width="1.2"/>
<path d="M254.50,349.18L258.42,353.10L254.50,357.02L250.58,353.10Z"/>
<text x="273.8" y="356.70000000000005" font-size="10" text-anchor="start" >150</text>
<text x="82.7" y="520" font-size="30.2" stroke="#000" stroke-width="0.3" textLength="46.3" lengthAdjust="spacingAndGlyphs">CD3</text>
<path d="M134.3,491.7V502.3M130.1,497.6H138.5" stroke="#000" stroke-width="1.6" fill="none"/>
<text x="144.9" y="520" font-size="30.2" stroke="#000" stroke-width="0.3" textLength="47.2" lengthAdjust="spacingAndGlyphs">CD5</text>
<path d="M199.2,493.3V503.9M195.0,499.2H203.4" stroke="#000" stroke-width="1.6" fill="none"/>
<text x="356.0" y="520" font-size="30.2" stroke="#000" stroke-width="0.3" textLength="47.8" lengthAdjust="spacingAndGlyphs">CD3</text>
<rect x="404.6" y="498.8" width="5" height="1.8"/>
<text x="418" y="520" font-size="30.2" stroke="#000" stroke-width="0.3" textLength="47" lengthAdjust="spacingAndGlyphs">CD5</text>
<path d="M468.6,493.3V503.9M464.4,499.2H472.8" stroke="#000" stroke-width="1.6" fill="none"/>
<text x="36.3" y="547.5" font-size="15.4" stroke="#000" stroke-width="0.12" textLength="77.5" lengthAdjust="spacingAndGlyphs">Unstimulated</text>
<text x="168.4" y="547.5" font-size="15.4" stroke="#000" stroke-width="0.12" textLength="62.4" lengthAdjust="spacingAndGlyphs">Stimulated</text>
<text x="312" y="547.2" font-size="15.4" stroke="#000" stroke-width="0.12" textLength="76" lengthAdjust="spacingAndGlyphs">Unstimulated</text>
<text x="444.5" y="547.5" font-size="15.4" stroke="#000" stroke-width="0.12" textLength="62.5" lengthAdjust="spacingAndGlyphs">Stimulated</text>
<text x="114" y="664" font-size="21.5" stroke="#000" stroke-width="0.25" textLength="47.2" lengthAdjust="spacingAndGlyphs">CFSE</text>
<text x="391.5" y="663" font-size="21.5" stroke="#000" stroke-width="0.25" textLength="46" lengthAdjust="spacingAndGlyphs">CFSE</text>
<text transform="translate(19.9,605.1) rotate(-90)" font-size="19.5" stroke="#000" stroke-width="0.1">D<tspan font-size="15" dx="0.2" dy="-8.9">d</tspan></text>
<text transform="translate(299.0,605.1) rotate(-90)" font-size="19.5" stroke="#000" stroke-width="0.1">D<tspan font-size="15" dx="0.2" dy="-8.9">d</tspan></text>
<path d="M42.5,621.5h1.2v1.2h-1.2zM43.0,618.0h1.2v1.2h-1.2zM44.0,623.5h1.2v1.2h-1.2zM46.0,617.0h1.2v1.2h-1.2zM46.5,616.5h1.2v1.2h-1.2zM46.5,623.5h1.2v1.2h-1.2zM46.5,630.5h1.2v1.2h-1.2zM47.0,621.0h1.2v1.2h-1.2zM48.5,621.5h1.2v1.2h-1.2zM49.5,609.5h1.2v1.2h-1.2zM49.5,623.0h1.2v1.2h-1.2zM50.0,619.0h1.2v1.2h-1.2zM50.0,623.5h1.2v1.2h-1.2zM50.5,623.5h1.2v1.2h-1.2zM50.5,625.0h1.2v1.2h-1.2zM51.0,628.0h1.2v1.2h-1.2zM52.5,611.5h1.2v1.2h-1.2zM52.5,619.5h1.2v1.2h-1.2zM52.5,627.5h1.2v1.2h-1.2zM53.0,616.0h1.2v1.2h-1.2zM53.5,620.5h1.2v1.2h-1.2zM53.5,627.5h1.2v1.2h-1.2zM54.0,624.5h1.2v1.2h-1.2zM54.5,621.5h1.2v1.2h-1.2zM55.5,609.0h1.2v1.2h-1.2zM55.5,621.0h1.2v1.2h-1.2zM56.0,620.5h1.2v1.2h-1.2zM56.5,610.0h1.2v1.2h-1.2zM57.0,627.0h1.2v1.2h-1.2zM60.0,618.5h1.2v1.2h-1.2zM61.0,599.0h1.2v1.2h-1.2zM61.5,618.0h1.2v1.2h-1.2zM63.0,627.0h1.2v1.2h-1.2zM64.5,622.0h1.2v1.2h-1.2zM65.0,598.0h1.2v1.2h-1.2zM66.5,590.5h1.2v1.2h-1.2zM67.0,604.0h1.2v1.2h-1.2zM67.0,623.5h1.2v1.2h-1.2zM67.5,589.5h1.2v1.2h-1.2zM68.0,595.0h1.2v1.2h-1.2zM68.5,589.5h1.2v1.2h-1.2zM68.5,601.0h1.2v1.2h-1.2zM69.0,597.5h1.2v1.2h-1.2zM69.0,601.5h1.2v1.2h-1.2zM69.0,606.5h1.2v1.2h-1.2zM69.5,596.5h1.2v1.2h-1.2zM70.0,603.0h1.2v1.2h-1.2zM70.0,615.5h1.2v1.2h-1.2zM71.0,605.0h1.2v1.2h-1.2zM71.5,596.0h1.2v1.2h-1.2zM71.5,600.5h1.2v1.2h-1.2zM73.0,597.0h1.2v1.2h-1.2zM73.0,598.0h1.2v1.2h-1.2zM74.0,597.5h1.2v1.2h-1.2zM74.5,600.5h1.2v1.2h-1.2zM74.5,607.0h1.2v1.2h-1.2zM74.5,607.5h1.2v1.2h-1.2zM74.5,609.0h1.2v1.2h-1.2zM74.5,610.5h1.2v1.2h-1.2zM75.0,598.0h1.2v1.2h-1.2zM75.0,606.0h1.2v1.2h-1.2zM75.0,607.0h1.2v1.2h-1.2zM75.0,607.5h1.2v1.2h-1.2zM75.5,598.0h1.2v1.2h-1.2zM75.5,602.0h1.2v1.2h-1.2zM75.5,603.0h1.2v1.2h-1.2zM75.5,605.0h1.2v1.2h-1.2zM75.5,606.0h1.2v1.2h-1.2zM75.5,611.5h1.2v1.2h-1.2zM76.0,597.0h1.2v1.2h-1.2zM76.0,600.5h1.2v1.2h-1.2zM76.0,601.5h1.2v1.2h-1.2zM76.0,602.0h1.2v1.2h-1.2zM76.0,606.5h1.2v1.2h-1.2zM76.5,593.5h1.2v1.2h-1.2zM76.5,597.0h1.2v1.2h-1.2zM76.5,597.5h1.2v1.2h-1.2zM76.5,598.5h1.2v1.2h-1.2zM76.5,599.0h1.2v1.2h-1.2zM76.5,603.5h1.2v1.2h-1.2zM76.5,605.5h1.2v1.2h-1.2zM76.5,610.5h1.2v1.2h-1.2zM76.5,611.5h1.2v1.2h-1.2zM76.5,616.0h1.2v1.2h-1.2zM77.0,596.0h1.2v1.2h-1.2zM77.0,598.0h1.2v1.2h-1.2zM77.0,600.0h1.2v1.2h-1.2zM77.0,602.0h1.2v1.2h-1.2zM77.0,603.0h1.2v1.2h-1.2zM77.0,603.5h1.2v1.2h-1.2zM77.0,604.5h1.2v1.2h-1.2zM77.0,606.5h1.2v1.2h-1.2zM77.0,607.5h1.2v1.2h-1.2zM77.0,611.5h1.2v1.2h-1.2zM77.5,586.0h1.2v1.2h-1.2zM77.5,596.5h1.2v1.2h-1.2zM77.5,597.0h1.2v1.2h-1.2zM77.5,601.5h1.2v1.2h-1.2zM77.5,603.5h1.2v1.2h-1.2zM77.5,604.5h1.2v1.2h-1.2zM77.5,606.5h1.2v1.2h-1.2zM77.5,608.5h1.2v1.2h-1.2zM78.0,596.5h1.2v1.2h-1.2zM78.0,599.5h1.2v1.2h-1.2zM78.0,602.0h1.2v1.2h-1.2zM78.0,606.0h1.2v1.2h-1.2zM78.0,606.5h1.2v1.2h-1.2zM78.0,610.5h1.2v1.2h-1.2zM78.0,611.0h1.2v1.2h-1.2zM78.0,612.5h1.2v1.2h-1.2zM78.5,593.0h1.2v1.2h-1.2zM78.5,594.0h1.2v1.2h-1.2zM78.5,594.5h1.2v1.2h-1.2zM78.5,595.5h1.2v1.2h-1.2zM78.5,596.0h1.2v1.2h-1.2zM78.5,596.5h1.2v1.2h-1.2zM78.5,599.0h1.2v1.2h-1.2zM78.5,600.5h1.2v1.2h-1.2zM78.5,601.0h1.2v1.2h-1.2zM78.5,602.5h1.2v1.2h-1.2zM78.5,603.0h1.2v1.2h-1.2zM78.5,604.0h1.2v1.2h-1.2zM78.5,605.5h1.2v1.2h-1.2zM78.5,607.0h1.2v1.2h-1.2zM78.5,607.5h1.2v1.2h-1.2zM78.5,609.5h1.2v1.2h-1.2zM78.5,613.0h1.2v1.2h-1.2zM78.5,614.0h1.2v1.2h-1.2zM79.0,594.5h1.2v1.2h-1.2zM79.0,597.5h1.2v1.2h-1.2zM79.0,598.0h1.2v1.2h-1.2zM79.0,598.5h1.2v1.2h-1.2zM79.0,601.5h1.2v1.2h-1.2zM79.0,602.0h1.2v1.2h-1.2zM79.0,602.5h1.2v1.2h-1.2zM79.0,605.0h1.2v1.2h-1.2zM79.0,605.5h1.2v1.2h-1.2zM79.0,610.5h1.2v1.2h-1.2zM79.0,613.5h1.2v1.2h-1.2zM79.5,585.0h1.2v1.2h-1.2zM79.5,585.5h1.2v1.2h-1.2zM79.5,592.0h1.2v1.2h-1.2zM79.5,593.5h1.2v1.2h-1.2zM79.5,595.5h1.2v1.2h-1.2zM79.5,596.0h1.2v1.2h-1.2zM79.5,599.0h1.2v1.2h-1.2zM79.5,603.0h1.2v1.2h-1.2zM79.5,604.5h1.2v1.2h-1.2zM79.5,606.5h1.2v1.2h-1.2zM79.5,607.0h1.2v1.2h-1.2zM79.5,610.0h1.2v1.2h-1.2zM79.5,611.5h1.2v1.2h-1.2zM79.5,613.0h1.2v1.2h-1.2zM79.5,614.0h1.2v1.2h-1.2zM79.5,615.5h1.2v1.2h-1.2zM80.0,593.5h1.2v1.2h-1.2zM80.0,595.0h1.2v1.2h-1.2zM80.0,597.5h1.2v1.2h-1.2zM80.0,598.0h1.2v1.2h-1.2zM80.0,599.0h1.2v1.2h-1.2zM80.0,600.0h1.2v1.2h-1.2zM80.0,601.0h1.2v1.2h-1.2zM80.0,602.5h1.2v1.2h-1.2zM80.0,605.0h1.2v1.2h-1.2zM80.0,606.0h1.2v1.2h-1.2zM80.0,610.5h1.2v1.2h-1.2zM80.0,611.5h1.2v1.2h-1.2zM80.0,613.5h1.2v1.2h-1.2zM80.0,616.5h1.2v1.2h-1.2zM80.0,617.0h1.2v1.2h-1.2zM80.5,592.0h1.2v1.2h-1.2zM80.5,593.0h1.2v1.2h-1.2zM80.5,594.0h1.2v1.2h-1.2zM80.5,597.5h1.2v1.2h-1.2zM80.5,598.0h1.2v1.2h-1.2zM80.5,598.5h1.2v1.2h-1.2zM80.5,600.5h1.2v1.2h-1.2zM80.5,601.0h1.2v1.2h-1.2zM80.5,601.5h1.2v1.2h-1.2zM80.5,603.0h1.2v1.2h-1.2zM80.5,604.0h1.2v1.2h-1.2zM80.5,604.5h1.2v1.2h-1.2zM80.5,605.5h1.2v1.2h-1.2zM80.5,606.0h1.2v1.2h-1.2zM80.5,611.0h1.2v1.2h-1.2zM80.5,611.5h1.2v1.2h-1.2zM80.5,618.0h1.2v1.2h-1.2zM80.5,618.5h1.2v1.2h-1.2zM81.0,593.5h1.2v1.2h-1.2zM81.0,595.0h1.2v1.2h-1.2zM81.0,597.5h1.2v1.2h-1.2zM81.0,599.0h1.2v1.2h-1.2zM81.0,599.5h1.2v1.2h-1.2zM81.0,600.5h1.2v1.2h-1.2zM81.0,601.0h1.2v1.2h-1.2zM81.0,603.5h1.2v1.2h-1.2zM81.0,605.0h1.2v1.2h-1.2zM81.0,606.5h1.2v1.2h-1.2zM81.0,614.0h1.2v1.2h-1.2zM81.0,616.5h1.2v1.2h-1.2zM81.5,594.0h1.2v1.2h-1.2zM81.5,595.5h1.2v1.2h-1.2zM81.5,598.5h1.2v1.2h-1.2zM81.5,599.5h1.2v1.2h-1.2zM81.5,600.0h1.2v1.2h-1.2zM81.5,600.5h1.2v1.2h-1.2zM81.5,601.0h1.2v1.2h-1.2zM81.5,603.0h1.2v1.2h-1.2zM81.5,603.5h1.2v1.2h-1.2zM81.5,604.5h1.2v1.2h-1.2zM81.5,608.5h1.2v1.2h-1.2zM81.5,622.5h1.2v1.2h-1.2zM82.0,592.0h1.2v1.2h-1.2zM82.0,593.5h1.2v1.2h-1.2zM82.0,594.5h1.2v1.2h-1.2zM82.0,596.0h1.2v1.2h-1.2zM82.0,597.0h1.2v1.2h-1.2zM82.0,598.5h1.2v1.2h-1.2zM82.0,599.5h1.2v1.2h-1.2zM82.0,603.5h1.2v1.2h-1.2zM82.0,605.0h1.2v1.2h-1.2zM82.0,605.5h1.2v1.2h-1.2zM82.0,606.5h1.2v1.2h-1.2zM82.0,607.0h1.2v1.2h-1.2zM82.0,608.0h1.2v1.2h-1.2zM82.0,608.5h1.2v1.2h-1.2zM82.0,611.0h1.2v1.2h-1.2zM82.0,613.5h1.2v1.2h-1.2zM82.5,592.0h1.2v1.2h-1.2zM82.5,601.0h1.2v1.2h-1.2zM82.5,602.0h1.2v1.2h-1.2zM82.5,603.0h1.2v1.2h-1.2zM82.5,604.5h1.2v1.2h-1.2zM82.5,605.0h1.2v1.2h-1.2zM82.5,606.5h1.2v1.2h-1.2zM82.5,611.0h1.2v1.2h-1.2zM82.5,615.0h1.2v1.2h-1.2zM82.5,616.5h1.2v1.2h-1.2zM82.5,618.0h1.2v1.2h-1.2zM83.0,594.5h1.2v1.2h-1.2zM83.0,595.0h1.2v1.2h-1.2zM83.0,596.5h1.2v1.2h-1.2zM83.0,599.0h1.2v1.2h-1.2zM83.0,600.0h1.2v1.2h-1.2zM83.0,603.5h1.2v1.2h-1.2zM83.0,604.5h1.2v1.2h-1.2zM83.0,605.0h1.2v1.2h-1.2zM83.0,607.0h1.2v1.2h-1.2zM83.5,596.5h1.2v1.2h-1.2zM83.5,597.5h1.2v1.2h-1.2zM83.5,598.5h1.2v1.2h-1.2zM83.5,600.0h1.2v1.2h-1.2zM83.5,601.5h1.2v1.2h-1.2zM83.5,602.5h1.2v1.2h-1.2zM83.5,606.5h1.2v1.2h-1.2zM83.5,610.0h1.2v1.2h-1.2zM83.5,610.5h1.2v1.2h-1.2zM83.5,616.0h1.2v1.2h-1.2zM84.0,596.0h1.2v1.2h-1.2zM84.0,597.0h1.2v1.2h-1.2zM84.0,597.5h1.2v1.2h-1.2zM84.0,599.5h1.2v1.2h-1.2zM84.0,602.0h1.2v1.2h-1.2zM84.0,604.0h1.2v1.2h-1.2zM84.0,605.0h1.2v1.2h-1.2zM84.0,606.5h1.2v1.2h-1.2zM84.0,616.0h1.2v1.2h-1.2zM84.5,593.0h1.2v1.2h-1.2zM84.5,594.0h1.2v1.2h-1.2zM84.5,595.5h1.2v1.2h-1.2zM84.5,597.0h1.2v1.2h-1.2zM84.5,597.5h1.2v1.2h-1.2zM84.5,598.5h1.2v1.2h-1.2zM84.5,599.0h1.2v1.2h-1.2zM84.5,599.5h1.2v1.2h-1.2zM84.5,600.0h1.2v1.2h-1.2zM84.5,600.5h1.2v1.2h-1.2zM84.5,602.0h1.2v1.2h-1.2zM84.5,605.0h1.2v1.2h-1.2zM84.5,607.5h1.2v1.2h-1.2zM84.5,608.0h1.2v1.2h-1.2zM84.5,615.0h1.2v1.2h-1.2zM85.0,593.0h1.2v1.2h-1.2zM85.0,596.5h1.2v1.2h-1.2zM85.0,599.5h1.2v1.2h-1.2zM85.0,600.0h1.2v1.2h-1.2zM85.0,600.5h1.2v1.2h-1.2zM85.0,608.0h1.2v1.2h-1.2zM85.0,609.0h1.2v1.2h-1.2zM85.5,592.5h1.2v1.2h-1.2zM85.5,593.5h1.2v1.2h-1.2zM85.5,595.5h1.2v1.2h-1.2zM85.5,597.5h1.2v1.2h-1.2zM85.5,599.0h1.2v1.2h-1.2zM85.5,599.5h1.2v1.2h-1.2zM85.5,601.0h1.2v1.2h-1.2zM85.5,602.5h1.2v1.2h-1.2zM85.5,604.0h1.2v1.2h-1.2zM85.5,607.5h1.2v1.2h-1.2zM86.0,584.5h1.2v1.2h-1.2zM86.0,597.0h1.2v1.2h-1.2zM86.0,598.0h1.2v1.2h-1.2zM86.0,601.0h1.2v1.2h-1.2zM86.0,607.5h1.2v1.2h-1.2zM86.5,589.0h1.2v1.2h-1.2zM86.5,592.5h1.2v1.2h-1.2zM86.5,595.5h1.2v1.2h-1.2zM86.5,600.5h1.2v1.2h-1.2zM86.5,601.0h1.2v1.2h-1.2zM86.5,603.5h1.2v1.2h-1.2zM86.5,607.5h1.2v1.2h-1.2zM87.0,597.5h1.2v1.2h-1.2zM87.0,598.0h1.2v1.2h-1.2zM87.0,602.5h1.2v1.2h-1.2zM87.0,606.0h1.2v1.2h-1.2zM87.5,588.0h1.2v1.2h-1.2zM87.5,596.0h1.2v1.2h-1.2zM87.5,597.0h1.2v1.2h-1.2zM87.5,605.0h1.2v1.2h-1.2zM88.0,592.0h1.2v1.2h-1.2zM88.0,601.5h1.2v1.2h-1.2zM88.5,591.0h1.2v1.2h-1.2zM88.5,595.0h1.2v1.2h-1.2zM88.5,596.5h1.2v1.2h-1.2zM88.5,600.5h1.2v1.2h-1.2zM89.0,585.0h1.2v1.2h-1.2zM89.0,602.0h1.2v1.2h-1.2zM89.5,601.0h1.2v1.2h-1.2zM90.0,597.5h1.2v1.2h-1.2zM90.0,600.0h1.2v1.2h-1.2zM91.0,594.5h1.2v1.2h-1.2zM91.0,602.5h1.2v1.2h-1.2zM91.0,603.5h1.2v1.2h-1.2zM91.0,606.0h1.2v1.2h-1.2zM91.5,602.0h1.2v1.2h-1.2zM92.0,597.5h1.2v1.2h-1.2zM92.0,600.5h1.2v1.2h-1.2zM92.0,606.0h1.2v1.2h-1.2zM92.5,585.0h1.2v1.2h-1.2zM93.0,591.0h1.2v1.2h-1.2zM93.0,606.5h1.2v1.2h-1.2zM93.5,596.5h1.2v1.2h-1.2zM94.0,605.5h1.2v1.2h-1.2zM94.5,582.5h1.2v1.2h-1.2zM96.0,596.0h1.2v1.2h-1.2zM96.5,592.0h1.2v1.2h-1.2zM99.5,587.5h1.2v1.2h-1.2zM103.0,601.0h1.2v1.2h-1.2z"/>
<rect x="34.2" y="558.6" width="82.1" height="74.29999999999995" fill="none" stroke="#000" stroke-width="1.2"/>
<line x1="62.3" y1="558.6" x2="62.3" y2="632.9" stroke="#000" stroke-width="1.3"/>
<line x1="34.2" y1="607.7" x2="116.3" y2="607.7" stroke="#000" stroke-width="1.3"/>
<path d="M30.4,632.90H34.2M32.0,627.31H34.2M32.0,624.04H34.2M32.0,621.72H34.2M32.0,619.92H34.2M32.0,618.45H34.2M32.0,617.20H34.2M32.0,616.13H34.2M32.0,615.17H34.2M30.4,614.33H34.2M32.0,608.73H34.2M32.0,605.46H34.2M32.0,603.14H34.2M32.0,601.34H34.2M32.0,599.87H34.2M32.0,598.63H34.2M32.0,597.55H34.2M32.0,596.60H34.2M30.4,595.75H34.2M32.0,590.16H34.2M32.0,586.89H34.2M32.0,584.57H34.2M32.0,582.77H34.2M32.0,581.30H34.2M32.0,580.05H34.2M32.0,578.98H34.2M32.0,578.02H34.2M30.4,577.17H34.2M32.0,571.58H34.2M32.0,568.31H34.2M32.0,565.99H34.2M32.0,564.19H34.2M32.0,562.72H34.2M32.0,561.48H34.2M32.0,560.40H34.2M32.0,559.45H34.2M34.20,632.9V637.4M40.38,632.9V635.5M43.99,632.9V635.5M46.56,632.9V635.5M48.55,632.9V635.5M50.17,632.9V635.5M51.55,632.9V635.5M52.74,632.9V635.5M53.79,632.9V635.5M54.73,632.9V637.4M60.90,632.9V635.5M64.52,632.9V635.5M67.08,632.9V635.5M69.07,632.9V635.5M70.70,632.9V635.5M72.07,632.9V635.5M73.26,632.9V635.5M74.31,632.9V635.5M75.25,632.9V637.4M81.43,632.9V635.5M85.04,632.9V635.5M87.61,632.9V635.5M89.60,632.9V635.5M91.22,632.9V635.5M92.60,632.9V635.5M93.79,632.9V635.5M94.84,632.9V635.5M95.78,632.9V637.4M101.95,632.9V635.5M105.57,632.9V635.5M108.13,632.9V635.5M110.12,632.9V635.5M111.75,632.9V635.5M113.12,632.9V635.5M114.31,632.9V635.5M115.36,632.9V635.5M116.30,632.9V637.4" stroke="#000" stroke-width="1" fill="none"/>
<path d="M162.0,629.0h1.2v1.2h-1.2zM163.0,630.5h1.2v1.2h-1.2zM164.5,621.0h1.2v1.2h-1.2zM165.0,625.0h1.2v1.2h-1.2zM165.5,627.5h1.2v1.2h-1.2zM165.5,628.0h1.2v1.2h-1.2zM166.0,623.0h1.2v1.2h-1.2zM166.5,596.0h1.2v1.2h-1.2zM166.5,613.5h1.2v1.2h-1.2zM166.5,628.5h1.2v1.2h-1.2zM167.0,617.0h1.2v1.2h-1.2zM167.0,626.0h1.2v1.2h-1.2zM167.5,618.0h1.2v1.2h-1.2zM167.5,621.0h1.2v1.2h-1.2zM167.5,626.5h1.2v1.2h-1.2zM167.5,628.5h1.2v1.2h-1.2zM168.0,608.5h1.2v1.2h-1.2zM168.0,618.0h1.2v1.2h-1.2zM168.0,620.0h1.2v1.2h-1.2zM168.0,621.5h1.2v1.2h-1.2zM168.0,627.0h1.2v1.2h-1.2zM168.5,616.0h1.2v1.2h-1.2zM168.5,619.5h1.2v1.2h-1.2zM168.5,621.0h1.2v1.2h-1.2zM169.0,618.5h1.2v1.2h-1.2zM169.0,619.5h1.2v1.2h-1.2zM169.0,622.5h1.2v1.2h-1.2zM169.5,616.0h1.2v1.2h-1.2zM169.5,621.5h1.2v1.2h-1.2zM169.5,628.5h1.2v1.2h-1.2zM170.0,612.0h1.2v1.2h-1.2zM170.0,614.5h1.2v1.2h-1.2zM170.0,618.5h1.2v1.2h-1.2zM170.0,619.5h1.2v1.2h-1.2zM170.0,623.5h1.2v1.2h-1.2zM170.0,625.5h1.2v1.2h-1.2zM170.5,611.0h1.2v1.2h-1.2zM170.5,614.5h1.2v1.2h-1.2zM170.5,622.0h1.2v1.2h-1.2zM170.5,623.0h1.2v1.2h-1.2zM170.5,624.0h1.2v1.2h-1.2zM170.5,625.0h1.2v1.2h-1.2zM171.0,617.5h1.2v1.2h-1.2zM171.0,620.5h1.2v1.2h-1.2zM171.0,621.0h1.2v1.2h-1.2zM171.0,621.5h1.2v1.2h-1.2zM171.0,623.0h1.2v1.2h-1.2zM171.0,624.5h1.2v1.2h-1.2zM171.5,596.5h1.2v1.2h-1.2zM171.5,619.5h1.2v1.2h-1.2zM171.5,620.0h1.2v1.2h-1.2zM171.5,620.5h1.2v1.2h-1.2zM171.5,622.5h1.2v1.2h-1.2zM171.5,624.5h1.2v1.2h-1.2zM171.5,625.5h1.2v1.2h-1.2zM171.5,626.0h1.2v1.2h-1.2zM171.5,626.5h1.2v1.2h-1.2zM172.0,602.5h1.2v1.2h-1.2zM172.0,613.5h1.2v1.2h-1.2zM172.0,615.5h1.2v1.2h-1.2zM172.0,616.5h1.2v1.2h-1.2zM172.0,617.5h1.2v1.2h-1.2zM172.0,619.0h1.2v1.2h-1.2zM172.0,620.5h1.2v1.2h-1.2zM172.0,623.5h1.2v1.2h-1.2zM172.0,624.5h1.2v1.2h-1.2zM172.0,627.5h1.2v1.2h-1.2zM172.0,628.0h1.2v1.2h-1.2zM172.5,602.0h1.2v1.2h-1.2zM172.5,603.5h1.2v1.2h-1.2zM172.5,604.5h1.2v1.2h-1.2zM172.5,614.0h1.2v1.2h-1.2zM172.5,615.0h1.2v1.2h-1.2zM172.5,615.5h1.2v1.2h-1.2zM172.5,617.0h1.2v1.2h-1.2zM172.5,618.0h1.2v1.2h-1.2zM172.5,619.0h1.2v1.2h-1.2zM172.5,619.5h1.2v1.2h-1.2zM172.5,621.5h1.2v1.2h-1.2zM172.5,622.5h1.2v1.2h-1.2zM172.5,623.0h1.2v1.2h-1.2zM172.5,623.5h1.2v1.2h-1.2zM172.5,624.5h1.2v1.2h-1.2zM172.5,625.0h1.2v1.2h-1.2zM172.5,626.0h1.2v1.2h-1.2zM172.5,629.0h1.2v1.2h-1.2zM172.5,629.5h1.2v1.2h-1.2zM173.0,596.5h1.2v1.2h-1.2zM173.0,602.0h1.2v1.2h-1.2zM173.0,614.5h1.2v1.2h-1.2zM173.0,616.0h1.2v1.2h-1.2zM173.0,620.0h1.2v1.2h-1.2zM173.0,620.5h1.2v1.2h-1.2zM173.0,622.0h1.2v1.2h-1.2zM173.0,622.5h1.2v1.2h-1.2zM173.0,623.0h1.2v1.2h-1.2zM173.0,623.5h1.2v1.2h-1.2zM173.0,624.0h1.2v1.2h-1.2zM173.0,624.5h1.2v1.2h-1.2zM173.5,597.0h1.2v1.2h-1.2zM173.5,599.5h1.2v1.2h-1.2zM173.5,601.5h1.2v1.2h-1.2zM173.5,618.0h1.2v1.2h-1.2zM173.5,619.0h1.2v1.2h-1.2zM173.5,619.5h1.2v1.2h-1.2zM173.5,620.5h1.2v1.2h-1.2zM173.5,621.0h1.2v1.2h-1.2zM173.5,622.5h1.2v1.2h-1.2zM173.5,623.0h1.2v1.2h-1.2zM173.5,625.5h1.2v1.2h-1.2zM173.5,627.0h1.2v1.2h-1.2zM173.5,631.5h1.2v1.2h-1.2zM174.0,616.0h1.2v1.2h-1.2zM174.0,616.5h1.2v1.2h-1.2zM174.0,617.5h1.2v1.2h-1.2zM174.0,618.5h1.2v1.2h-1.2zM174.0,619.0h1.2v1.2h-1.2zM174.0,619.5h1.2v1.2h-1.2zM174.0,622.0h1.2v1.2h-1.2zM174.0,624.0h1.2v1.2h-1.2zM174.0,628.0h1.2v1.2h-1.2zM174.5,606.0h1.2v1.2h-1.2zM174.5,615.5h1.2v1.2h-1.2zM174.5,619.5h1.2v1.2h-1.2zM174.5,620.0h1.2v1.2h-1.2zM174.5,620.5h1.2v1.2h-1.2zM174.5,622.0h1.2v1.2h-1.2zM174.5,623.0h1.2v1.2h-1.2zM174.5,623.5h1.2v1.2h-1.2zM175.0,600.0h1.2v1.2h-1.2zM175.0,614.0h1.2v1.2h-1.2zM175.0,617.0h1.2v1.2h-1.2zM175.0,617.5h1.2v1.2h-1.2zM175.0,618.0h1.2v1.2h-1.2zM175.0,619.0h1.2v1.2h-1.2zM175.0,620.0h1.2v1.2h-1.2zM175.0,621.5h1.2v1.2h-1.2zM175.0,624.0h1.2v1.2h-1.2zM175.0,627.5h1.2v1.2h-1.2zM175.5,613.5h1.2v1.2h-1.2zM175.5,614.0h1.2v1.2h-1.2zM175.5,615.5h1.2v1.2h-1.2zM175.5,616.0h1.2v1.2h-1.2zM175.5,616.5h1.2v1.2h-1.2zM175.5,620.5h1.2v1.2h-1.2zM175.5,623.0h1.2v1.2h-1.2zM175.5,626.0h1.2v1.2h-1.2zM176.0,596.0h1.2v1.2h-1.2zM176.0,604.0h1.2v1.2h-1.2zM176.0,611.5h1.2v1.2h-1.2zM176.0,612.5h1.2v1.2h-1.2zM176.0,614.0h1.2v1.2h-1.2zM176.0,615.5h1.2v1.2h-1.2zM176.0,617.0h1.2v1.2h-1.2zM176.0,617.5h1.2v1.2h-1.2zM176.0,618.5h1.2v1.2h-1.2zM176.0,620.5h1.2v1.2h-1.2zM176.0,621.0h1.2v1.2h-1.2zM176.0,622.5h1.2v1.2h-1.2zM176.5,597.5h1.2v1.2h-1.2zM176.5,599.0h1.2v1.2h-1.2zM176.5,602.0h1.2v1.2h-1.2zM176.5,604.0h1.2v1.2h-1.2zM176.5,612.0h1.2v1.2h-1.2zM176.5,612.5h1.2v1.2h-1.2zM176.5,615.0h1.2v1.2h-1.2zM176.5,615.5h1.2v1.2h-1.2zM176.5,616.5h1.2v1.2h-1.2zM176.5,619.0h1.2v1.2h-1.2zM176.5,619.5h1.2v1.2h-1.2zM176.5,621.5h1.2v1.2h-1.2zM176.5,624.5h1.2v1.2h-1.2zM176.5,626.5h1.2v1.2h-1.2zM177.0,596.0h1.2v1.2h-1.2zM177.0,597.0h1.2v1.2h-1.2zM177.0,614.5h1.2v1.2h-1.2zM177.0,616.5h1.2v1.2h-1.2zM177.0,617.0h1.2v1.2h-1.2zM177.0,618.0h1.2v1.2h-1.2zM177.0,618.5h1.2v1.2h-1.2zM177.0,624.5h1.2v1.2h-1.2zM177.5,616.0h1.2v1.2h-1.2zM177.5,617.0h1.2v1.2h-1.2zM177.5,619.0h1.2v1.2h-1.2zM177.5,619.5h1.2v1.2h-1.2zM177.5,620.5h1.2v1.2h-1.2zM177.5,623.5h1.2v1.2h-1.2zM178.0,609.5h1.2v1.2h-1.2zM178.0,612.0h1.2v1.2h-1.2zM178.0,615.0h1.2v1.2h-1.2zM178.0,615.5h1.2v1.2h-1.2zM178.0,616.5h1.2v1.2h-1.2zM178.0,617.5h1.2v1.2h-1.2zM178.0,618.0h1.2v1.2h-1.2zM178.0,620.5h1.2v1.2h-1.2zM178.0,621.0h1.2v1.2h-1.2zM178.0,623.5h1.2v1.2h-1.2zM178.5,600.5h1.2v1.2h-1.2zM178.5,613.5h1.2v1.2h-1.2zM178.5,614.0h1.2v1.2h-1.2zM178.5,615.0h1.2v1.2h-1.2zM178.5,616.5h1.2v1.2h-1.2zM178.5,617.5h1.2v1.2h-1.2zM178.5,618.5h1.2v1.2h-1.2zM178.5,619.0h1.2v1.2h-1.2zM178.5,619.5h1.2v1.2h-1.2zM178.5,620.5h1.2v1.2h-1.2zM178.5,621.5h1.2v1.2h-1.2zM179.0,608.5h1.2v1.2h-1.2zM179.0,615.5h1.2v1.2h-1.2zM179.0,617.0h1.2v1.2h-1.2zM179.0,618.0h1.2v1.2h-1.2zM179.0,618.5h1.2v1.2h-1.2zM179.0,621.0h1.2v1.2h-1.2zM179.0,621.5h1.2v1.2h-1.2zM179.0,622.5h1.2v1.2h-1.2zM179.5,594.0h1.2v1.2h-1.2zM179.5,596.0h1.2v1.2h-1.2zM179.5,604.5h1.2v1.2h-1.2zM179.5,610.5h1.2v1.2h-1.2zM179.5,612.5h1.2v1.2h-1.2zM179.5,613.5h1.2v1.2h-1.2zM179.5,614.5h1.2v1.2h-1.2zM179.5,615.0h1.2v1.2h-1.2zM179.5,616.0h1.2v1.2h-1.2zM179.5,617.0h1.2v1.2h-1.2zM179.5,617.5h1.2v1.2h-1.2zM179.5,618.0h1.2v1.2h-1.2zM179.5,627.0h1.2v1.2h-1.2zM180.0,611.0h1.2v1.2h-1.2zM180.0,615.0h1.2v1.2h-1.2zM180.0,617.0h1.2v1.2h-1.2zM180.0,617.5h1.2v1.2h-1.2zM180.0,618.5h1.2v1.2h-1.2zM180.0,619.0h1.2v1.2h-1.2zM180.0,621.5h1.2v1.2h-1.2zM180.5,598.0h1.2v1.2h-1.2zM180.5,598.5h1.2v1.2h-1.2zM180.5,605.5h1.2v1.2h-1.2zM180.5,606.0h1.2v1.2h-1.2zM180.5,607.5h1.2v1.2h-1.2zM180.5,608.5h1.2v1.2h-1.2zM180.5,611.0h1.2v1.2h-1.2zM180.5,612.0h1.2v1.2h-1.2zM180.5,613.0h1.2v1.2h-1.2zM180.5,615.0h1.2v1.2h-1.2zM180.5,615.5h1.2v1.2h-1.2zM180.5,616.0h1.2v1.2h-1.2zM180.5,617.5h1.2v1.2h-1.2zM180.5,618.5h1.2v1.2h-1.2zM180.5,619.5h1.2v1.2h-1.2zM180.5,620.5h1.2v1.2h-1.2zM180.5,622.0h1.2v1.2h-1.2zM181.0,604.0h1.2v1.2h-1.2zM181.0,609.0h1.2v1.2h-1.2zM181.0,614.5h1.2v1.2h-1.2zM181.0,615.0h1.2v1.2h-1.2zM181.0,620.0h1.2v1.2h-1.2zM181.5,599.5h1.2v1.2h-1.2zM181.5,609.0h1.2v1.2h-1.2zM181.5,612.0h1.2v1.2h-1.2zM181.5,612.5h1.2v1.2h-1.2zM181.5,613.0h1.2v1.2h-1.2zM181.5,617.0h1.2v1.2h-1.2zM181.5,618.0h1.2v1.2h-1.2zM181.5,620.0h1.2v1.2h-1.2zM182.0,591.5h1.2v1.2h-1.2zM182.0,606.5h1.2v1.2h-1.2zM182.0,610.0h1.2v1.2h-1.2zM182.0,611.0h1.2v1.2h-1.2zM182.0,611.5h1.2v1.2h-1.2zM182.0,614.0h1.2v1.2h-1.2zM182.0,614.5h1.2v1.2h-1.2zM182.0,616.5h1.2v1.2h-1.2zM182.0,617.0h1.2v1.2h-1.2zM182.0,619.5h1.2v1.2h-1.2zM182.0,620.0h1.2v1.2h-1.2zM182.0,622.5h1.2v1.2h-1.2zM182.0,625.0h1.2v1.2h-1.2zM182.5,605.0h1.2v1.2h-1.2zM182.5,610.5h1.2v1.2h-1.2zM182.5,618.0h1.2v1.2h-1.2zM182.5,619.5h1.2v1.2h-1.2zM182.5,620.5h1.2v1.2h-1.2zM182.5,622.0h1.2v1.2h-1.2zM183.0,606.0h1.2v1.2h-1.2zM183.0,611.0h1.2v1.2h-1.2zM183.0,613.5h1.2v1.2h-1.2zM183.0,616.0h1.2v1.2h-1.2zM183.0,622.0h1.2v1.2h-1.2zM183.5,596.5h1.2v1.2h-1.2zM183.5,611.5h1.2v1.2h-1.2zM183.5,613.0h1.2v1.2h-1.2zM184.0,611.0h1.2v1.2h-1.2zM184.0,611.5h1.2v1.2h-1.2zM184.0,621.5h1.2v1.2h-1.2zM184.5,597.5h1.2v1.2h-1.2zM184.5,613.5h1.2v1.2h-1.2zM184.5,615.0h1.2v1.2h-1.2zM185.0,596.5h1.2v1.2h-1.2zM185.0,608.0h1.2v1.2h-1.2zM185.0,615.5h1.2v1.2h-1.2zM185.0,616.0h1.2v1.2h-1.2zM185.0,622.0h1.2v1.2h-1.2zM185.5,614.5h1.2v1.2h-1.2zM185.5,620.5h1.2v1.2h-1.2zM186.0,604.0h1.2v1.2h-1.2zM186.5,612.5h1.2v1.2h-1.2zM187.0,610.0h1.2v1.2h-1.2zM187.0,616.5h1.2v1.2h-1.2zM188.0,608.0h1.2v1.2h-1.2zM188.5,613.0h1.2v1.2h-1.2zM189.0,612.0h1.2v1.2h-1.2zM190.0,601.5h1.2v1.2h-1.2zM190.5,599.5h1.2v1.2h-1.2zM191.0,602.5h1.2v1.2h-1.2zM191.5,598.5h1.2v1.2h-1.2zM191.5,605.0h1.2v1.2h-1.2zM192.0,613.5h1.2v1.2h-1.2zM194.0,599.5h1.2v1.2h-1.2zM194.0,606.0h1.2v1.2h-1.2zM195.0,608.5h1.2v1.2h-1.2zM196.0,593.5h1.2v1.2h-1.2zM196.0,598.5h1.2v1.2h-1.2zM196.0,602.5h1.2v1.2h-1.2zM196.5,599.5h1.2v1.2h-1.2zM196.5,607.0h1.2v1.2h-1.2zM197.0,595.5h1.2v1.2h-1.2zM197.0,600.5h1.2v1.2h-1.2zM197.5,600.5h1.2v1.2h-1.2zM198.0,601.5h1.2v1.2h-1.2zM198.0,602.5h1.2v1.2h-1.2zM198.0,607.5h1.2v1.2h-1.2zM198.0,614.0h1.2v1.2h-1.2zM198.5,602.0h1.2v1.2h-1.2zM199.0,601.0h1.2v1.2h-1.2zM199.0,603.5h1.2v1.2h-1.2zM199.0,617.0h1.2v1.2h-1.2zM199.0,617.5h1.2v1.2h-1.2zM199.5,599.5h1.2v1.2h-1.2zM199.5,602.5h1.2v1.2h-1.2zM199.5,613.5h1.2v1.2h-1.2zM199.5,614.5h1.2v1.2h-1.2zM200.0,604.0h1.2v1.2h-1.2zM200.0,608.0h1.2v1.2h-1.2zM200.5,594.5h1.2v1.2h-1.2zM200.5,601.0h1.2v1.2h-1.2zM200.5,601.5h1.2v1.2h-1.2zM200.5,602.0h1.2v1.2h-1.2zM200.5,606.5h1.2v1.2h-1.2zM201.0,598.0h1.2v1.2h-1.2zM201.0,608.5h1.2v1.2h-1.2zM201.0,609.0h1.2v1.2h-1.2zM201.0,610.0h1.2v1.2h-1.2zM201.0,612.0h1.2v1.2h-1.2zM201.0,618.0h1.2v1.2h-1.2zM201.5,597.0h1.2v1.2h-1.2zM201.5,600.0h1.2v1.2h-1.2zM201.5,611.0h1.2v1.2h-1.2zM202.0,600.0h1.2v1.2h-1.2zM202.0,600.5h1.2v1.2h-1.2zM202.0,607.5h1.2v1.2h-1.2zM202.0,610.0h1.2v1.2h-1.2zM202.0,614.5h1.2v1.2h-1.2zM202.5,609.5h1.2v1.2h-1.2zM202.5,615.0h1.2v1.2h-1.2zM202.5,616.0h1.2v1.2h-1.2zM203.0,602.0h1.2v1.2h-1.2zM203.0,606.5h1.2v1.2h-1.2zM203.0,607.5h1.2v1.2h-1.2zM203.0,608.0h1.2v1.2h-1.2zM203.0,609.0h1.2v1.2h-1.2zM203.5,603.5h1.2v1.2h-1.2zM203.5,604.0h1.2v1.2h-1.2zM203.5,609.0h1.2v1.2h-1.2zM203.5,609.5h1.2v1.2h-1.2zM203.5,614.5h1.2v1.2h-1.2zM204.0,598.5h1.2v1.2h-1.2zM204.0,600.5h1.2v1.2h-1.2zM204.0,601.0h1.2v1.2h-1.2zM204.0,604.0h1.2v1.2h-1.2zM204.0,613.5h1.2v1.2h-1.2zM204.5,596.0h1.2v1.2h-1.2zM204.5,600.0h1.2v1.2h-1.2zM204.5,607.5h1.2v1.2h-1.2zM204.5,611.5h1.2v1.2h-1.2zM204.5,612.5h1.2v1.2h-1.2zM204.5,613.0h1.2v1.2h-1.2zM204.5,620.0h1.2v1.2h-1.2zM204.5,622.5h1.2v1.2h-1.2zM205.0,595.5h1.2v1.2h-1.2zM205.0,600.0h1.2v1.2h-1.2zM205.0,605.0h1.2v1.2h-1.2zM205.0,610.5h1.2v1.2h-1.2zM205.0,615.0h1.2v1.2h-1.2zM206.0,603.5h1.2v1.2h-1.2zM206.5,604.0h1.2v1.2h-1.2zM206.5,605.5h1.2v1.2h-1.2zM207.0,598.5h1.2v1.2h-1.2zM207.5,598.0h1.2v1.2h-1.2zM207.5,605.5h1.2v1.2h-1.2zM208.0,600.5h1.2v1.2h-1.2zM208.0,601.0h1.2v1.2h-1.2zM208.0,604.0h1.2v1.2h-1.2zM209.0,598.5h1.2v1.2h-1.2zM209.0,600.0h1.2v1.2h-1.2zM209.5,600.0h1.2v1.2h-1.2zM209.5,602.5h1.2v1.2h-1.2zM209.5,604.0h1.2v1.2h-1.2zM210.0,600.0h1.2v1.2h-1.2zM210.0,603.0h1.2v1.2h-1.2zM210.0,605.5h1.2v1.2h-1.2zM210.5,601.5h1.2v1.2h-1.2zM210.5,602.0h1.2v1.2h-1.2zM211.0,601.0h1.2v1.2h-1.2zM212.0,599.0h1.2v1.2h-1.2zM212.0,599.5h1.2v1.2h-1.2zM213.0,606.0h1.2v1.2h-1.2zM222.0,599.0h1.2v1.2h-1.2z"/>
<rect x="159.8" y="558.3" width="81.29999999999998" height="74.70000000000005" fill="none" stroke="#000" stroke-width="1.2"/>
<line x1="187.4" y1="558.3" x2="187.4" y2="633.0" stroke="#000" stroke-width="1.3"/>
<line x1="159.8" y1="607.4" x2="241.1" y2="607.4" stroke="#000" stroke-width="1.3"/>
<path d="M156.0,633.00H159.8M157.6,627.38H159.8M157.6,624.09H159.8M157.6,621.76H159.8M157.6,619.95H159.8M157.6,618.47H159.8M157.6,617.22H159.8M157.6,616.13H159.8M157.6,615.18H159.8M156.0,614.33H159.8M157.6,608.70H159.8M157.6,605.41H159.8M157.6,603.08H159.8M157.6,601.27H159.8M157.6,599.79H159.8M157.6,598.54H159.8M157.6,597.46H159.8M157.6,596.50H159.8M156.0,595.65H159.8M157.6,590.03H159.8M157.6,586.74H159.8M157.6,584.41H159.8M157.6,582.60H159.8M157.6,581.12H159.8M157.6,579.87H159.8M157.6,578.78H159.8M157.6,577.83H159.8M156.0,576.97H159.8M157.6,571.35H159.8M157.6,568.06H159.8M157.6,565.73H159.8M157.6,563.92H159.8M157.6,562.44H159.8M157.6,561.19H159.8M157.6,560.11H159.8M157.6,559.15H159.8M159.80,633.0V637.5M165.92,633.0V635.6M169.50,633.0V635.6M172.04,633.0V635.6M174.01,633.0V635.6M175.62,633.0V635.6M176.98,633.0V635.6M178.16,633.0V635.6M179.19,633.0V635.6M180.12,633.0V637.5M186.24,633.0V635.6M189.82,633.0V635.6M192.36,633.0V635.6M194.33,633.0V635.6M195.94,633.0V635.6M197.30,633.0V635.6M198.48,633.0V635.6M199.52,633.0V635.6M200.45,633.0V637.5M206.57,633.0V635.6M210.15,633.0V635.6M212.69,633.0V635.6M214.66,633.0V635.6M216.27,633.0V635.6M217.63,633.0V635.6M218.81,633.0V635.6M219.84,633.0V635.6M220.78,633.0V637.5M226.89,633.0V635.6M230.47,633.0V635.6M233.01,633.0V635.6M234.98,633.0V635.6M236.59,633.0V635.6M237.95,633.0V635.6M239.13,633.0V635.6M240.17,633.0V635.6M241.10,633.0V637.5" stroke="#000" stroke-width="1" fill="none"/>
<path d="M317.0,595.0h1.2v1.2h-1.2zM321.5,598.0h1.2v1.2h-1.2zM322.0,614.0h1.2v1.2h-1.2zM323.0,618.5h1.2v1.2h-1.2zM323.5,616.0h1.2v1.2h-1.2zM325.0,610.0h1.2v1.2h-1.2zM325.5,600.0h1.2v1.2h-1.2zM325.5,615.0h1.2v1.2h-1.2zM325.5,617.0h1.2v1.2h-1.2zM327.0,599.5h1.2v1.2h-1.2zM328.5,607.5h1.2v1.2h-1.2zM329.0,587.5h1.2v1.2h-1.2zM329.0,615.5h1.2v1.2h-1.2zM329.5,619.0h1.2v1.2h-1.2zM330.5,606.5h1.2v1.2h-1.2zM330.5,616.0h1.2v1.2h-1.2zM331.0,610.5h1.2v1.2h-1.2zM331.0,619.5h1.2v1.2h-1.2zM332.5,586.5h1.2v1.2h-1.2zM332.5,616.5h1.2v1.2h-1.2zM333.0,612.5h1.2v1.2h-1.2zM333.0,618.5h1.2v1.2h-1.2zM333.0,624.0h1.2v1.2h-1.2zM333.0,626.0h1.2v1.2h-1.2zM334.0,611.5h1.2v1.2h-1.2zM334.0,615.5h1.2v1.2h-1.2zM334.5,616.0h1.2v1.2h-1.2zM335.0,626.5h1.2v1.2h-1.2zM335.5,602.0h1.2v1.2h-1.2zM335.5,605.0h1.2v1.2h-1.2zM335.5,611.5h1.2v1.2h-1.2zM337.0,607.0h1.2v1.2h-1.2zM337.0,618.5h1.2v1.2h-1.2zM338.5,617.0h1.2v1.2h-1.2zM338.5,625.0h1.2v1.2h-1.2zM340.0,589.0h1.2v1.2h-1.2zM340.0,623.0h1.2v1.2h-1.2zM340.5,598.5h1.2v1.2h-1.2zM341.0,594.0h1.2v1.2h-1.2zM342.5,601.0h1.2v1.2h-1.2zM344.0,605.0h1.2v1.2h-1.2zM346.5,592.0h1.2v1.2h-1.2zM346.5,597.5h1.2v1.2h-1.2zM346.5,598.0h1.2v1.2h-1.2zM347.0,593.5h1.2v1.2h-1.2zM347.0,597.5h1.2v1.2h-1.2zM347.0,598.5h1.2v1.2h-1.2zM348.0,595.0h1.2v1.2h-1.2zM348.0,596.5h1.2v1.2h-1.2zM348.0,598.0h1.2v1.2h-1.2zM348.5,592.0h1.2v1.2h-1.2zM348.5,594.0h1.2v1.2h-1.2zM348.5,596.0h1.2v1.2h-1.2zM348.5,598.0h1.2v1.2h-1.2zM349.0,589.5h1.2v1.2h-1.2zM349.0,591.0h1.2v1.2h-1.2zM349.0,593.5h1.2v1.2h-1.2zM349.0,594.0h1.2v1.2h-1.2zM349.0,594.5h1.2v1.2h-1.2zM349.0,596.0h1.2v1.2h-1.2zM349.0,596.5h1.2v1.2h-1.2zM349.0,597.5h1.2v1.2h-1.2zM349.0,598.0h1.2v1.2h-1.2zM349.0,601.0h1.2v1.2h-1.2zM349.5,594.5h1.2v1.2h-1.2zM349.5,595.5h1.2v1.2h-1.2zM349.5,597.0h1.2v1.2h-1.2zM349.5,597.5h1.2v1.2h-1.2zM349.5,598.5h1.2v1.2h-1.2zM349.5,605.5h1.2v1.2h-1.2zM350.0,592.5h1.2v1.2h-1.2zM350.0,593.5h1.2v1.2h-1.2zM350.0,595.0h1.2v1.2h-1.2zM350.0,596.0h1.2v1.2h-1.2zM350.0,597.5h1.2v1.2h-1.2zM350.0,599.5h1.2v1.2h-1.2zM350.5,591.0h1.2v1.2h-1.2zM350.5,591.5h1.2v1.2h-1.2zM350.5,593.0h1.2v1.2h-1.2zM350.5,593.5h1.2v1.2h-1.2zM350.5,594.0h1.2v1.2h-1.2zM350.5,594.5h1.2v1.2h-1.2zM350.5,595.0h1.2v1.2h-1.2zM350.5,596.5h1.2v1.2h-1.2zM350.5,600.0h1.2v1.2h-1.2zM351.0,591.0h1.2v1.2h-1.2zM351.0,594.0h1.2v1.2h-1.2zM351.0,595.0h1.2v1.2h-1.2zM351.0,597.0h1.2v1.2h-1.2zM351.0,597.5h1.2v1.2h-1.2zM351.0,602.0h1.2v1.2h-1.2zM351.0,611.5h1.2v1.2h-1.2zM351.0,620.0h1.2v1.2h-1.2zM351.5,587.5h1.2v1.2h-1.2zM351.5,589.0h1.2v1.2h-1.2zM351.5,589.5h1.2v1.2h-1.2zM351.5,590.0h1.2v1.2h-1.2zM351.5,590.5h1.2v1.2h-1.2zM351.5,592.5h1.2v1.2h-1.2zM351.5,593.0h1.2v1.2h-1.2zM351.5,593.5h1.2v1.2h-1.2zM351.5,595.0h1.2v1.2h-1.2zM351.5,595.5h1.2v1.2h-1.2zM351.5,596.0h1.2v1.2h-1.2zM351.5,596.5h1.2v1.2h-1.2zM351.5,597.0h1.2v1.2h-1.2zM351.5,598.5h1.2v1.2h-1.2zM351.5,599.5h1.2v1.2h-1.2zM351.5,600.5h1.2v1.2h-1.2zM351.5,604.5h1.2v1.2h-1.2zM352.0,578.5h1.2v1.2h-1.2zM352.0,589.0h1.2v1.2h-1.2zM352.0,591.5h1.2v1.2h-1.2zM352.0,595.5h1.2v1.2h-1.2zM352.0,596.5h1.2v1.2h-1.2zM352.0,597.0h1.2v1.2h-1.2zM352.0,597.5h1.2v1.2h-1.2zM352.0,598.0h1.2v1.2h-1.2zM352.0,598.5h1.2v1.2h-1.2zM352.0,599.0h1.2v1.2h-1.2zM352.0,599.5h1.2v1.2h-1.2zM352.0,600.0h1.2v1.2h-1.2zM352.0,605.5h1.2v1.2h-1.2zM352.5,589.0h1.2v1.2h-1.2zM352.5,590.0h1.2v1.2h-1.2zM352.5,591.0h1.2v1.2h-1.2zM352.5,592.5h1.2v1.2h-1.2zM352.5,593.5h1.2v1.2h-1.2zM352.5,594.5h1.2v1.2h-1.2zM352.5,595.0h1.2v1.2h-1.2zM352.5,595.5h1.2v1.2h-1.2zM352.5,596.0h1.2v1.2h-1.2zM352.5,597.0h1.2v1.2h-1.2zM352.5,598.0h1.2v1.2h-1.2zM352.5,598.5h1.2v1.2h-1.2zM352.5,602.0h1.2v1.2h-1.2zM352.5,611.0h1.2v1.2h-1.2zM353.0,588.5h1.2v1.2h-1.2zM353.0,593.5h1.2v1.2h-1.2zM353.0,594.0h1.2v1.2h-1.2zM353.0,594.5h1.2v1.2h-1.2zM353.0,595.5h1.2v1.2h-1.2zM353.0,596.0h1.2v1.2h-1.2zM353.0,597.0h1.2v1.2h-1.2zM353.0,597.5h1.2v1.2h-1.2zM353.0,598.0h1.2v1.2h-1.2zM353.0,598.5h1.2v1.2h-1.2zM353.0,600.5h1.2v1.2h-1.2zM353.0,601.0h1.2v1.2h-1.2zM353.0,607.5h1.2v1.2h-1.2zM353.0,611.0h1.2v1.2h-1.2zM353.0,614.5h1.2v1.2h-1.2zM353.0,619.0h1.2v1.2h-1.2zM353.0,619.5h1.2v1.2h-1.2zM353.5,591.5h1.2v1.2h-1.2zM353.5,593.0h1.2v1.2h-1.2zM353.5,594.0h1.2v1.2h-1.2zM353.5,594.5h1.2v1.2h-1.2zM353.5,595.0h1.2v1.2h-1.2zM353.5,595.5h1.2v1.2h-1.2zM353.5,596.5h1.2v1.2h-1.2zM353.5,597.0h1.2v1.2h-1.2zM353.5,598.0h1.2v1.2h-1.2zM353.5,598.5h1.2v1.2h-1.2zM353.5,599.0h1.2v1.2h-1.2zM353.5,599.5h1.2v1.2h-1.2zM353.5,600.0h1.2v1.2h-1.2zM353.5,600.5h1.2v1.2h-1.2zM353.5,615.0h1.2v1.2h-1.2zM354.0,589.5h1.2v1.2h-1.2zM354.0,591.5h1.2v1.2h-1.2zM354.0,593.5h1.2v1.2h-1.2zM354.0,594.5h1.2v1.2h-1.2zM354.0,595.0h1.2v1.2h-1.2zM354.0,595.5h1.2v1.2h-1.2zM354.0,596.5h1.2v1.2h-1.2zM354.0,597.5h1.2v1.2h-1.2zM354.0,598.0h1.2v1.2h-1.2zM354.0,598.5h1.2v1.2h-1.2zM354.0,599.0h1.2v1.2h-1.2zM354.0,600.0h1.2v1.2h-1.2zM354.0,605.5h1.2v1.2h-1.2zM354.0,606.0h1.2v1.2h-1.2zM354.0,608.0h1.2v1.2h-1.2zM354.5,590.0h1.2v1.2h-1.2zM354.5,592.0h1.2v1.2h-1.2zM354.5,592.5h1.2v1.2h-1.2zM354.5,593.5h1.2v1.2h-1.2zM354.5,594.5h1.2v1.2h-1.2zM354.5,595.0h1.2v1.2h-1.2zM354.5,595.5h1.2v1.2h-1.2zM354.5,597.0h1.2v1.2h-1.2zM354.5,597.5h1.2v1.2h-1.2zM354.5,598.0h1.2v1.2h-1.2zM354.5,598.5h1.2v1.2h-1.2zM354.5,599.0h1.2v1.2h-1.2zM354.5,599.5h1.2v1.2h-1.2zM354.5,600.5h1.2v1.2h-1.2zM354.5,601.5h1.2v1.2h-1.2zM354.5,607.0h1.2v1.2h-1.2zM355.0,589.0h1.2v1.2h-1.2zM355.0,592.0h1.2v1.2h-1.2zM355.0,593.0h1.2v1.2h-1.2zM355.0,593.5h1.2v1.2h-1.2zM355.0,594.0h1.2v1.2h-1.2zM355.0,594.5h1.2v1.2h-1.2zM355.0,595.0h1.2v1.2h-1.2zM355.0,595.5h1.2v1.2h-1.2zM355.0,596.0h1.2v1.2h-1.2zM355.0,596.5h1.2v1.2h-1.2zM355.0,597.0h1.2v1.2h-1.2zM355.0,597.5h1.2v1.2h-1.2zM355.0,598.0h1.2v1.2h-1.2zM355.0,598.5h1.2v1.2h-1.2zM355.0,599.0h1.2v1.2h-1.2zM355.0,600.0h1.2v1.2h-1.2zM355.0,601.0h1.2v1.2h-1.2zM355.0,601.5h1.2v1.2h-1.2zM355.0,606.0h1.2v1.2h-1.2zM355.0,614.0h1.2v1.2h-1.2zM355.0,614.5h1.2v1.2h-1.2zM355.5,591.5h1.2v1.2h-1.2zM355.5,592.5h1.2v1.2h-1.2zM355.5,593.0h1.2v1.2h-1.2zM355.5,593.5h1.2v1.2h-1.2zM355.5,594.5h1.2v1.2h-1.2zM355.5,595.0h1.2v1.2h-1.2zM355.5,595.5h1.2v1.2h-1.2zM355.5,596.0h1.2v1.2h-1.2zM355.5,596.5h1.2v1.2h-1.2zM355.5,597.0h1.2v1.2h-1.2zM355.5,597.5h1.2v1.2h-1.2zM355.5,598.0h1.2v1.2h-1.2zM355.5,598.5h1.2v1.2h-1.2zM355.5,599.5h1.2v1.2h-1.2zM355.5,600.5h1.2v1.2h-1.2zM355.5,601.0h1.2v1.2h-1.2zM355.5,601.5h1.2v1.2h-1.2zM356.0,589.5h1.2v1.2h-1.2zM356.0,590.5h1.2v1.2h-1.2zM356.0,592.5h1.2v1.2h-1.2zM356.0,593.0h1.2v1.2h-1.2zM356.0,593.5h1.2v1.2h-1.2zM356.0,594.5h1.2v1.2h-1.2zM356.0,595.0h1.2v1.2h-1.2zM356.0,595.5h1.2v1.2h-1.2zM356.0,596.5h1.2v1.2h-1.2zM356.0,597.0h1.2v1.2h-1.2zM356.0,597.5h1.2v1.2h-1.2zM356.0,598.0h1.2v1.2h-1.2zM356.0,598.5h1.2v1.2h-1.2zM356.0,599.0h1.2v1.2h-1.2zM356.0,599.5h1.2v1.2h-1.2zM356.0,603.5h1.2v1.2h-1.2zM356.0,604.5h1.2v1.2h-1.2zM356.0,605.5h1.2v1.2h-1.2zM356.0,606.0h1.2v1.2h-1.2zM356.5,590.5h1.2v1.2h-1.2zM356.5,591.0h1.2v1.2h-1.2zM356.5,592.5h1.2v1.2h-1.2zM356.5,593.0h1.2v1.2h-1.2zM356.5,593.5h1.2v1.2h-1.2zM356.5,594.0h1.2v1.2h-1.2zM356.5,594.5h1.2v1.2h-1.2zM356.5,595.0h1.2v1.2h-1.2zM356.5,595.5h1.2v1.2h-1.2zM356.5,596.0h1.2v1.2h-1.2zM356.5,596.5h1.2v1.2h-1.2zM356.5,597.0h1.2v1.2h-1.2zM356.5,597.5h1.2v1.2h-1.2zM356.5,598.0h1.2v1.2h-1.2zM356.5,598.5h1.2v1.2h-1.2zM356.5,599.0h1.2v1.2h-1.2zM356.5,599.5h1.2v1.2h-1.2zM356.5,601.5h1.2v1.2h-1.2zM356.5,606.5h1.2v1.2h-1.2zM356.5,607.0h1.2v1.2h-1.2zM356.5,609.0h1.2v1.2h-1.2zM356.5,610.0h1.2v1.2h-1.2zM357.0,591.5h1.2v1.2h-1.2zM357.0,593.0h1.2v1.2h-1.2zM357.0,593.5h1.2v1.2h-1.2zM357.0,595.0h1.2v1.2h-1.2zM357.0,595.5h1.2v1.2h-1.2zM357.0,596.0h1.2v1.2h-1.2zM357.0,596.5h1.2v1.2h-1.2zM357.0,597.0h1.2v1.2h-1.2zM357.0,597.5h1.2v1.2h-1.2zM357.0,598.0h1.2v1.2h-1.2zM357.0,598.5h1.2v1.2h-1.2zM357.0,599.0h1.2v1.2h-1.2zM357.0,599.5h1.2v1.2h-1.2zM357.0,601.0h1.2v1.2h-1.2zM357.0,605.5h1.2v1.2h-1.2zM357.0,606.0h1.2v1.2h-1.2zM357.0,608.0h1.2v1.2h-1.2zM357.0,608.5h1.2v1.2h-1.2zM357.0,609.0h1.2v1.2h-1.2zM357.0,611.5h1.2v1.2h-1.2zM357.0,612.0h1.2v1.2h-1.2zM357.0,615.0h1.2v1.2h-1.2zM357.0,617.0h1.2v1.2h-1.2zM357.5,592.0h1.2v1.2h-1.2zM357.5,592.5h1.2v1.2h-1.2zM357.5,594.5h1.2v1.2h-1.2zM357.5,595.0h1.2v1.2h-1.2zM357.5,595.5h1.2v1.2h-1.2zM357.5,596.0h1.2v1.2h-1.2zM357.5,596.5h1.2v1.2h-1.2zM357.5,597.0h1.2v1.2h-1.2zM357.5,598.0h1.2v1.2h-1.2zM357.5,599.0h1.2v1.2h-1.2zM357.5,600.5h1.2v1.2h-1.2zM357.5,602.0h1.2v1.2h-1.2zM357.5,605.0h1.2v1.2h-1.2zM357.5,606.5h1.2v1.2h-1.2zM357.5,607.0h1.2v1.2h-1.2zM357.5,608.0h1.2v1.2h-1.2zM357.5,611.0h1.2v1.2h-1.2zM357.5,615.0h1.2v1.2h-1.2zM358.0,592.5h1.2v1.2h-1.2zM358.0,593.0h1.2v1.2h-1.2zM358.0,593.5h1.2v1.2h-1.2zM358.0,594.0h1.2v1.2h-1.2zM358.0,595.0h1.2v1.2h-1.2zM358.0,595.5h1.2v1.2h-1.2zM358.0,596.0h1.2v1.2h-1.2zM358.0,596.5h1.2v1.2h-1.2zM358.0,597.0h1.2v1.2h-1.2zM358.0,597.5h1.2v1.2h-1.2zM358.0,599.5h1.2v1.2h-1.2zM358.0,603.0h1.2v1.2h-1.2zM358.0,603.5h1.2v1.2h-1.2zM358.0,604.0h1.2v1.2h-1.2zM358.0,605.5h1.2v1.2h-1.2zM358.0,607.5h1.2v1.2h-1.2zM358.0,608.5h1.2v1.2h-1.2zM358.0,609.0h1.2v1.2h-1.2zM358.0,610.0h1.2v1.2h-1.2zM358.0,612.5h1.2v1.2h-1.2zM358.0,615.0h1.2v1.2h-1.2zM358.0,617.5h1.2v1.2h-1.2zM358.5,591.5h1.2v1.2h-1.2zM358.5,592.0h1.2v1.2h-1.2zM358.5,593.0h1.2v1.2h-1.2zM358.5,594.0h1.2v1.2h-1.2zM358.5,595.5h1.2v1.2h-1.2zM358.5,597.0h1.2v1.2h-1.2zM358.5,597.5h1.2v1.2h-1.2zM358.5,598.0h1.2v1.2h-1.2zM358.5,599.0h1.2v1.2h-1.2zM358.5,599.5h1.2v1.2h-1.2zM358.5,600.5h1.2v1.2h-1.2zM358.5,601.5h1.2v1.2h-1.2zM358.5,602.0h1.2v1.2h-1.2zM358.5,603.0h1.2v1.2h-1.2zM358.5,606.5h1.2v1.2h-1.2zM358.5,607.5h1.2v1.2h-1.2zM358.5,609.5h1.2v1.2h-1.2zM358.5,611.0h1.2v1.2h-1.2zM358.5,613.5h1.2v1.2h-1.2zM358.5,615.5h1.2v1.2h-1.2zM359.0,590.5h1.2v1.2h-1.2zM359.0,591.0h1.2v1.2h-1.2zM359.0,593.0h1.2v1.2h-1.2zM359.0,593.5h1.2v1.2h-1.2zM359.0,594.5h1.2v1.2h-1.2zM359.0,595.0h1.2v1.2h-1.2zM359.0,595.5h1.2v1.2h-1.2zM359.0,596.5h1.2v1.2h-1.2zM359.0,597.0h1.2v1.2h-1.2zM359.0,597.5h1.2v1.2h-1.2zM359.0,598.0h1.2v1.2h-1.2zM359.0,599.0h1.2v1.2h-1.2zM359.0,600.5h1.2v1.2h-1.2zM359.0,603.5h1.2v1.2h-1.2zM359.0,604.5h1.2v1.2h-1.2zM359.0,607.5h1.2v1.2h-1.2zM359.0,608.0h1.2v1.2h-1.2zM359.0,609.5h1.2v1.2h-1.2zM359.0,610.0h1.2v1.2h-1.2zM359.0,610.5h1.2v1.2h-1.2zM359.0,612.5h1.2v1.2h-1.2zM359.0,613.5h1.2v1.2h-1.2zM359.0,614.0h1.2v1.2h-1.2zM359.0,615.5h1.2v1.2h-1.2zM359.5,590.5h1.2v1.2h-1.2zM359.5,592.0h1.2v1.2h-1.2zM359.5,594.5h1.2v1.2h-1.2zM359.5,595.5h1.2v1.2h-1.2zM359.5,596.0h1.2v1.2h-1.2zM359.5,596.5h1.2v1.2h-1.2zM359.5,597.0h1.2v1.2h-1.2zM359.5,598.0h1.2v1.2h-1.2zM359.5,598.5h1.2v1.2h-1.2zM359.5,605.0h1.2v1.2h-1.2zM359.5,605.5h1.2v1.2h-1.2zM359.5,606.0h1.2v1.2h-1.2zM359.5,607.5h1.2v1.2h-1.2zM359.5,608.5h1.2v1.2h-1.2zM359.5,610.0h1.2v1.2h-1.2zM359.5,610.5h1.2v1.2h-1.2zM359.5,611.5h1.2v1.2h-1.2zM359.5,613.0h1.2v1.2h-1.2zM359.5,613.5h1.2v1.2h-1.2zM360.0,593.5h1.2v1.2h-1.2zM360.0,594.0h1.2v1.2h-1.2zM360.0,594.5h1.2v1.2h-1.2zM360.0,595.0h1.2v1.2h-1.2zM360.0,595.5h1.2v1.2h-1.2zM360.0,596.0h1.2v1.2h-1.2zM360.0,596.5h1.2v1.2h-1.2zM360.0,597.0h1.2v1.2h-1.2zM360.0,597.5h1.2v1.2h-1.2zM360.0,598.0h1.2v1.2h-1.2zM360.0,603.5h1.2v1.2h-1.2zM360.0,605.0h1.2v1.2h-1.2zM360.0,605.5h1.2v1.2h-1.2zM360.0,606.0h1.2v1.2h-1.2zM360.0,606.5h1.2v1.2h-1.2zM360.0,608.5h1.2v1.2h-1.2zM360.0,610.0h1.2v1.2h-1.2zM360.0,610.5h1.2v1.2h-1.2zM360.0,611.0h1.2v1.2h-1.2zM360.0,611.5h1.2v1.2h-1.2zM360.0,612.0h1.2v1.2h-1.2zM360.0,612.5h1.2v1.2h-1.2zM360.0,613.5h1.2v1.2h-1.2zM360.0,616.0h1.2v1.2h-1.2zM360.0,616.5h1.2v1.2h-1.2zM360.5,590.5h1.2v1.2h-1.2zM360.5,595.0h1.2v1.2h-1.2zM360.5,595.5h1.2v1.2h-1.2zM360.5,596.0h1.2v1.2h-1.2zM360.5,598.5h1.2v1.2h-1.2zM360.5,599.0h1.2v1.2h-1.2zM360.5,599.5h1.2v1.2h-1.2zM360.5,600.0h1.2v1.2h-1.2zM360.5,600.5h1.2v1.2h-1.2zM360.5,603.5h1.2v1.2h-1.2zM360.5,604.0h1.2v1.2h-1.2zM360.5,605.0h1.2v1.2h-1.2zM360.5,605.5h1.2v1.2h-1.2zM360.5,606.0h1.2v1.2h-1.2zM360.5,608.0h1.2v1.2h-1.2zM360.5,609.0h1.2v1.2h-1.2zM360.5,611.0h1.2v1.2h-1.2zM360.5,612.0h1.2v1.2h-1.2zM360.5,613.0h1.2v1.2h-1.2zM360.5,614.0h1.2v1.2h-1.2zM360.5,614.5h1.2v1.2h-1.2zM361.0,594.0h1.2v1.2h-1.2zM361.0,596.0h1.2v1.2h-1.2zM361.0,597.0h1.2v1.2h-1.2zM361.0,598.0h1.2v1.2h-1.2zM361.0,598.5h1.2v1.2h-1.2zM361.0,599.0h1.2v1.2h-1.2zM361.0,603.5h1.2v1.2h-1.2zM361.0,604.0h1.2v1.2h-1.2zM361.0,605.0h1.2v1.2h-1.2zM361.0,606.0h1.2v1.2h-1.2zM361.0,609.5h1.2v1.2h-1.2zM361.0,610.5h1.2v1.2h-1.2zM361.0,614.5h1.2v1.2h-1.2zM361.0,615.5h1.2v1.2h-1.2zM361.5,590.0h1.2v1.2h-1.2zM361.5,592.0h1.2v1.2h-1.2zM361.5,593.0h1.2v1.2h-1.2zM361.5,593.5h1.2v1.2h-1.2zM361.5,594.5h1.2v1.2h-1.2zM361.5,595.0h1.2v1.2h-1.2zM361.5,595.5h1.2v1.2h-1.2zM361.5,597.5h1.2v1.2h-1.2zM361.5,599.5h1.2v1.2h-1.2zM361.5,600.5h1.2v1.2h-1.2zM361.5,604.5h1.2v1.2h-1.2zM361.5,605.0h1.2v1.2h-1.2zM361.5,605.5h1.2v1.2h-1.2zM361.5,607.5h1.2v1.2h-1.2zM361.5,608.5h1.2v1.2h-1.2zM361.5,609.0h1.2v1.2h-1.2zM361.5,610.5h1.2v1.2h-1.2zM361.5,611.5h1.2v1.2h-1.2zM361.5,614.5h1.2v1.2h-1.2zM362.0,591.5h1.2v1.2h-1.2zM362.0,594.0h1.2v1.2h-1.2zM362.0,594.5h1.2v1.2h-1.2zM362.0,595.0h1.2v1.2h-1.2zM362.0,597.0h1.2v1.2h-1.2zM362.0,598.0h1.2v1.2h-1.2zM362.0,604.5h1.2v1.2h-1.2zM362.0,606.0h1.2v1.2h-1.2zM362.0,608.0h1.2v1.2h-1.2zM362.0,608.5h1.2v1.2h-1.2zM362.0,612.5h1.2v1.2h-1.2zM362.0,613.0h1.2v1.2h-1.2zM362.0,613.5h1.2v1.2h-1.2zM362.0,614.0h1.2v1.2h-1.2zM362.5,591.0h1.2v1.2h-1.2zM362.5,592.5h1.2v1.2h-1.2zM362.5,594.0h1.2v1.2h-1.2zM362.5,594.5h1.2v1.2h-1.2zM362.5,595.5h1.2v1.2h-1.2zM362.5,596.0h1.2v1.2h-1.2zM362.5,597.0h1.2v1.2h-1.2zM362.5,597.5h1.2v1.2h-1.2zM362.5,601.0h1.2v1.2h-1.2zM362.5,603.5h1.2v1.2h-1.2zM362.5,605.5h1.2v1.2h-1.2zM362.5,607.0h1.2v1.2h-1.2zM362.5,611.0h1.2v1.2h-1.2zM362.5,619.5h1.2v1.2h-1.2zM363.0,591.0h1.2v1.2h-1.2zM363.0,593.0h1.2v1.2h-1.2zM363.0,594.0h1.2v1.2h-1.2zM363.0,596.0h1.2v1.2h-1.2zM363.0,597.0h1.2v1.2h-1.2zM363.0,597.5h1.2v1.2h-1.2zM363.0,598.5h1.2v1.2h-1.2zM363.0,600.0h1.2v1.2h-1.2zM363.0,601.5h1.2v1.2h-1.2zM363.0,605.5h1.2v1.2h-1.2zM363.0,606.0h1.2v1.2h-1.2zM363.0,607.5h1.2v1.2h-1.2zM363.0,608.0h1.2v1.2h-1.2zM363.0,610.0h1.2v1.2h-1.2zM363.0,610.5h1.2v1.2h-1.2zM363.0,613.5h1.2v1.2h-1.2zM363.0,614.0h1.2v1.2h-1.2zM363.5,589.0h1.2v1.2h-1.2zM363.5,590.0h1.2v1.2h-1.2zM363.5,591.5h1.2v1.2h-1.2zM363.5,594.0h1.2v1.2h-1.2zM363.5,594.5h1.2v1.2h-1.2zM363.5,596.0h1.2v1.2h-1.2zM363.5,597.0h1.2v1.2h-1.2zM363.5,597.5h1.2v1.2h-1.2zM363.5,601.0h1.2v1.2h-1.2zM363.5,604.0h1.2v1.2h-1.2zM363.5,611.5h1.2v1.2h-1.2zM363.5,612.0h1.2v1.2h-1.2zM364.0,591.5h1.2v1.2h-1.2zM364.0,593.0h1.2v1.2h-1.2zM364.0,593.5h1.2v1.2h-1.2zM364.0,594.5h1.2v1.2h-1.2zM364.0,595.0h1.2v1.2h-1.2zM364.0,595.5h1.2v1.2h-1.2zM364.0,596.5h1.2v1.2h-1.2zM364.0,597.0h1.2v1.2h-1.2zM364.0,597.5h1.2v1.2h-1.2zM364.0,598.0h1.2v1.2h-1.2zM364.0,604.5h1.2v1.2h-1.2zM364.0,610.0h1.2v1.2h-1.2zM364.0,611.5h1.2v1.2h-1.2zM364.0,617.0h1.2v1.2h-1.2zM364.5,591.0h1.2v1.2h-1.2zM364.5,592.0h1.2v1.2h-1.2zM364.5,593.5h1.2v1.2h-1.2zM364.5,596.0h1.2v1.2h-1.2zM364.5,597.0h1.2v1.2h-1.2zM364.5,605.0h1.2v1.2h-1.2zM364.5,610.0h1.2v1.2h-1.2zM364.5,615.5h1.2v1.2h-1.2zM365.0,586.5h1.2v1.2h-1.2zM365.0,593.0h1.2v1.2h-1.2zM365.0,593.5h1.2v1.2h-1.2zM365.0,594.5h1.2v1.2h-1.2zM365.0,595.0h1.2v1.2h-1.2zM365.0,596.0h1.2v1.2h-1.2zM365.0,597.0h1.2v1.2h-1.2zM365.0,598.5h1.2v1.2h-1.2zM365.0,599.0h1.2v1.2h-1.2zM365.0,602.0h1.2v1.2h-1.2zM365.0,603.0h1.2v1.2h-1.2zM365.0,609.0h1.2v1.2h-1.2zM365.0,615.5h1.2v1.2h-1.2zM365.5,594.0h1.2v1.2h-1.2zM365.5,594.5h1.2v1.2h-1.2zM365.5,595.0h1.2v1.2h-1.2zM365.5,595.5h1.2v1.2h-1.2zM365.5,597.0h1.2v1.2h-1.2zM365.5,598.0h1.2v1.2h-1.2zM365.5,601.0h1.2v1.2h-1.2zM365.5,609.0h1.2v1.2h-1.2zM366.0,589.0h1.2v1.2h-1.2zM366.0,591.0h1.2v1.2h-1.2zM366.0,593.0h1.2v1.2h-1.2zM366.0,593.5h1.2v1.2h-1.2zM366.0,595.5h1.2v1.2h-1.2zM366.0,596.5h1.2v1.2h-1.2zM366.0,597.0h1.2v1.2h-1.2zM366.5,593.5h1.2v1.2h-1.2zM366.5,595.5h1.2v1.2h-1.2zM366.5,613.0h1.2v1.2h-1.2zM366.5,613.5h1.2v1.2h-1.2zM367.0,591.5h1.2v1.2h-1.2zM367.0,593.0h1.2v1.2h-1.2zM367.0,594.5h1.2v1.2h-1.2zM367.0,595.5h1.2v1.2h-1.2zM367.0,599.0h1.2v1.2h-1.2zM367.0,599.5h1.2v1.2h-1.2zM367.5,587.0h1.2v1.2h-1.2zM367.5,590.0h1.2v1.2h-1.2zM367.5,595.5h1.2v1.2h-1.2zM367.5,597.0h1.2v1.2h-1.2zM367.5,597.5h1.2v1.2h-1.2zM368.0,591.0h1.2v1.2h-1.2zM368.0,593.0h1.2v1.2h-1.2zM368.0,594.0h1.2v1.2h-1.2zM368.0,595.5h1.2v1.2h-1.2zM368.0,596.0h1.2v1.2h-1.2zM368.0,610.5h1.2v1.2h-1.2zM368.5,590.5h1.2v1.2h-1.2zM368.5,593.5h1.2v1.2h-1.2zM368.5,594.0h1.2v1.2h-1.2zM368.5,596.5h1.2v1.2h-1.2zM368.5,597.0h1.2v1.2h-1.2zM369.0,599.0h1.2v1.2h-1.2zM369.0,602.0h1.2v1.2h-1.2zM369.5,585.0h1.2v1.2h-1.2zM369.5,591.5h1.2v1.2h-1.2zM369.5,594.0h1.2v1.2h-1.2zM370.5,593.5h1.2v1.2h-1.2zM370.5,596.5h1.2v1.2h-1.2zM371.0,590.5h1.2v1.2h-1.2zM371.0,595.0h1.2v1.2h-1.2zM371.5,617.5h1.2v1.2h-1.2zM372.0,582.0h1.2v1.2h-1.2zM372.0,592.5h1.2v1.2h-1.2zM372.0,594.0h1.2v1.2h-1.2zM372.0,594.5h1.2v1.2h-1.2zM372.0,595.5h1.2v1.2h-1.2zM372.5,583.0h1.2v1.2h-1.2zM373.0,591.5h1.2v1.2h-1.2zM373.0,610.5h1.2v1.2h-1.2zM373.5,580.5h1.2v1.2h-1.2zM374.0,581.5h1.2v1.2h-1.2zM374.0,608.5h1.2v1.2h-1.2zM374.5,590.0h1.2v1.2h-1.2zM374.5,591.0h1.2v1.2h-1.2zM379.0,588.0h1.2v1.2h-1.2zM380.0,602.0h1.2v1.2h-1.2zM381.0,588.0h1.2v1.2h-1.2zM383.0,583.0h1.2v1.2h-1.2zM389.0,584.5h1.2v1.2h-1.2z"/>
<rect x="311.9" y="557.2" width="81.90000000000003" height="74.59999999999991" fill="none" stroke="#000" stroke-width="1.2"/>
<line x1="340.1" y1="557.2" x2="340.1" y2="631.8" stroke="#000" stroke-width="1.3"/>
<line x1="311.9" y1="606.6" x2="393.8" y2="606.6" stroke="#000" stroke-width="1.3"/>
<path d="M308.1,631.80H311.9M309.7,626.19H311.9M309.7,622.90H311.9M309.7,620.57H311.9M309.7,618.76H311.9M309.7,617.29H311.9M309.7,616.04H311.9M309.7,614.96H311.9M309.7,614.00H311.9M308.1,613.15H311.9M309.7,607.54H311.9M309.7,604.25H311.9M309.7,601.92H311.9M309.7,600.11H311.9M309.7,598.64H311.9M309.7,597.39H311.9M309.7,596.31H311.9M309.7,595.35H311.9M308.1,594.50H311.9M309.7,588.89H311.9M309.7,585.60H311.9M309.7,583.27H311.9M309.7,581.46H311.9M309.7,579.99H311.9M309.7,578.74H311.9M309.7,577.66H311.9M309.7,576.70H311.9M308.1,575.85H311.9M309.7,570.24H311.9M309.7,566.95H311.9M309.7,564.62H311.9M309.7,562.81H311.9M309.7,561.34H311.9M309.7,560.09H311.9M309.7,559.01H311.9M309.7,558.05H311.9M311.90,631.8V636.3M318.06,631.8V634.4M321.67,631.8V634.4M324.23,631.8V634.4M326.21,631.8V634.4M327.83,631.8V634.4M329.20,631.8V634.4M330.39,631.8V634.4M331.44,631.8V634.4M332.38,631.8V636.3M338.54,631.8V634.4M342.14,631.8V634.4M344.70,631.8V634.4M346.69,631.8V634.4M348.31,631.8V634.4M349.68,631.8V634.4M350.87,631.8V634.4M351.91,631.8V634.4M352.85,631.8V636.3M359.01,631.8V634.4M362.62,631.8V634.4M365.18,631.8V634.4M367.16,631.8V634.4M368.78,631.8V634.4M370.15,631.8V634.4M371.34,631.8V634.4M372.39,631.8V634.4M373.32,631.8V636.3M379.49,631.8V634.4M383.09,631.8V634.4M385.65,631.8V634.4M387.64,631.8V634.4M389.26,631.8V634.4M390.63,631.8V634.4M391.82,631.8V634.4M392.86,631.8V634.4M393.80,631.8V636.3" stroke="#000" stroke-width="1" fill="none"/>
<path d="M438.0,596.0h1.2v1.2h-1.2zM438.5,615.0h1.2v1.2h-1.2zM438.5,626.0h1.2v1.2h-1.2zM439.0,605.5h1.2v1.2h-1.2zM439.0,616.5h1.2v1.2h-1.2zM439.5,608.0h1.2v1.2h-1.2zM439.5,625.0h1.2v1.2h-1.2zM440.0,594.5h1.2v1.2h-1.2zM440.0,601.0h1.2v1.2h-1.2zM440.5,596.5h1.2v1.2h-1.2zM440.5,617.0h1.2v1.2h-1.2zM440.5,627.0h1.2v1.2h-1.2zM441.0,600.5h1.2v1.2h-1.2zM441.0,605.0h1.2v1.2h-1.2zM441.0,616.0h1.2v1.2h-1.2zM441.0,620.0h1.2v1.2h-1.2zM441.0,621.0h1.2v1.2h-1.2zM441.5,605.0h1.2v1.2h-1.2zM441.5,611.0h1.2v1.2h-1.2zM441.5,619.0h1.2v1.2h-1.2zM442.0,607.0h1.2v1.2h-1.2zM442.0,614.5h1.2v1.2h-1.2zM442.0,617.5h1.2v1.2h-1.2zM442.0,625.5h1.2v1.2h-1.2zM442.5,602.5h1.2v1.2h-1.2zM442.5,609.5h1.2v1.2h-1.2zM443.0,608.0h1.2v1.2h-1.2zM443.0,618.0h1.2v1.2h-1.2zM443.0,622.5h1.2v1.2h-1.2zM443.5,602.0h1.2v1.2h-1.2zM443.5,607.5h1.2v1.2h-1.2zM443.5,609.5h1.2v1.2h-1.2zM443.5,627.0h1.2v1.2h-1.2zM444.0,599.5h1.2v1.2h-1.2zM444.0,600.0h1.2v1.2h-1.2zM444.0,602.0h1.2v1.2h-1.2zM444.0,603.0h1.2v1.2h-1.2zM444.0,613.0h1.2v1.2h-1.2zM444.0,621.0h1.2v1.2h-1.2zM444.0,622.5h1.2v1.2h-1.2zM444.5,601.5h1.2v1.2h-1.2zM444.5,616.5h1.2v1.2h-1.2zM445.0,596.5h1.2v1.2h-1.2zM445.0,599.5h1.2v1.2h-1.2zM445.0,605.0h1.2v1.2h-1.2zM445.0,606.0h1.2v1.2h-1.2zM445.0,611.5h1.2v1.2h-1.2zM445.0,616.0h1.2v1.2h-1.2zM445.5,590.0h1.2v1.2h-1.2zM445.5,593.0h1.2v1.2h-1.2zM445.5,593.5h1.2v1.2h-1.2zM445.5,606.5h1.2v1.2h-1.2zM445.5,610.0h1.2v1.2h-1.2zM445.5,610.5h1.2v1.2h-1.2zM445.5,616.5h1.2v1.2h-1.2zM445.5,618.0h1.2v1.2h-1.2zM445.5,618.5h1.2v1.2h-1.2zM445.5,622.0h1.2v1.2h-1.2zM445.5,624.0h1.2v1.2h-1.2zM446.0,591.5h1.2v1.2h-1.2zM446.0,597.5h1.2v1.2h-1.2zM446.0,598.5h1.2v1.2h-1.2zM446.0,599.0h1.2v1.2h-1.2zM446.0,610.0h1.2v1.2h-1.2zM446.0,610.5h1.2v1.2h-1.2zM446.0,620.0h1.2v1.2h-1.2zM446.0,622.0h1.2v1.2h-1.2zM446.0,623.0h1.2v1.2h-1.2zM446.5,597.5h1.2v1.2h-1.2zM446.5,600.0h1.2v1.2h-1.2zM446.5,605.5h1.2v1.2h-1.2zM446.5,613.5h1.2v1.2h-1.2zM447.0,590.5h1.2v1.2h-1.2zM447.0,595.0h1.2v1.2h-1.2zM447.0,602.5h1.2v1.2h-1.2zM447.0,603.5h1.2v1.2h-1.2zM447.0,606.0h1.2v1.2h-1.2zM447.0,611.5h1.2v1.2h-1.2zM447.0,614.5h1.2v1.2h-1.2zM447.0,622.5h1.2v1.2h-1.2zM447.5,595.5h1.2v1.2h-1.2zM447.5,598.5h1.2v1.2h-1.2zM447.5,604.5h1.2v1.2h-1.2zM447.5,605.0h1.2v1.2h-1.2zM447.5,613.0h1.2v1.2h-1.2zM447.5,617.5h1.2v1.2h-1.2zM448.0,590.5h1.2v1.2h-1.2zM448.0,595.5h1.2v1.2h-1.2zM448.0,596.5h1.2v1.2h-1.2zM448.0,597.5h1.2v1.2h-1.2zM448.0,599.0h1.2v1.2h-1.2zM448.0,604.5h1.2v1.2h-1.2zM448.0,605.0h1.2v1.2h-1.2zM448.0,608.0h1.2v1.2h-1.2zM448.0,609.5h1.2v1.2h-1.2zM448.0,615.5h1.2v1.2h-1.2zM448.0,618.0h1.2v1.2h-1.2zM448.0,627.5h1.2v1.2h-1.2zM448.0,628.5h1.2v1.2h-1.2zM448.5,591.5h1.2v1.2h-1.2zM448.5,596.0h1.2v1.2h-1.2zM448.5,598.0h1.2v1.2h-1.2zM448.5,599.0h1.2v1.2h-1.2zM448.5,599.5h1.2v1.2h-1.2zM448.5,606.5h1.2v1.2h-1.2zM449.0,593.0h1.2v1.2h-1.2zM449.0,593.5h1.2v1.2h-1.2zM449.0,594.5h1.2v1.2h-1.2zM449.0,596.0h1.2v1.2h-1.2zM449.0,597.0h1.2v1.2h-1.2zM449.0,600.0h1.2v1.2h-1.2zM449.0,604.5h1.2v1.2h-1.2zM449.0,608.0h1.2v1.2h-1.2zM449.0,622.0h1.2v1.2h-1.2zM449.5,598.0h1.2v1.2h-1.2zM449.5,600.5h1.2v1.2h-1.2zM449.5,601.5h1.2v1.2h-1.2zM449.5,602.0h1.2v1.2h-1.2zM449.5,602.5h1.2v1.2h-1.2zM449.5,604.5h1.2v1.2h-1.2zM449.5,608.0h1.2v1.2h-1.2zM449.5,610.0h1.2v1.2h-1.2zM449.5,611.5h1.2v1.2h-1.2zM449.5,613.5h1.2v1.2h-1.2zM449.5,619.0h1.2v1.2h-1.2zM450.0,592.5h1.2v1.2h-1.2zM450.0,593.5h1.2v1.2h-1.2zM450.0,596.5h1.2v1.2h-1.2zM450.0,598.0h1.2v1.2h-1.2zM450.0,607.5h1.2v1.2h-1.2zM450.0,609.0h1.2v1.2h-1.2zM450.0,609.5h1.2v1.2h-1.2zM450.0,610.5h1.2v1.2h-1.2zM450.0,620.5h1.2v1.2h-1.2zM450.5,593.5h1.2v1.2h-1.2zM450.5,596.0h1.2v1.2h-1.2zM450.5,597.0h1.2v1.2h-1.2zM450.5,598.0h1.2v1.2h-1.2zM450.5,599.0h1.2v1.2h-1.2zM450.5,603.0h1.2v1.2h-1.2zM450.5,604.0h1.2v1.2h-1.2zM450.5,604.5h1.2v1.2h-1.2zM450.5,607.0h1.2v1.2h-1.2zM450.5,619.0h1.2v1.2h-1.2zM450.5,619.5h1.2v1.2h-1.2zM451.0,596.5h1.2v1.2h-1.2zM451.0,597.5h1.2v1.2h-1.2zM451.0,598.5h1.2v1.2h-1.2zM451.0,599.0h1.2v1.2h-1.2zM451.0,599.5h1.2v1.2h-1.2zM451.0,600.0h1.2v1.2h-1.2zM451.0,600.5h1.2v1.2h-1.2zM451.0,601.0h1.2v1.2h-1.2zM451.0,603.0h1.2v1.2h-1.2zM451.0,604.0h1.2v1.2h-1.2zM451.0,604.5h1.2v1.2h-1.2zM451.0,605.5h1.2v1.2h-1.2zM451.0,606.5h1.2v1.2h-1.2zM451.5,592.0h1.2v1.2h-1.2zM451.5,593.0h1.2v1.2h-1.2zM451.5,594.0h1.2v1.2h-1.2zM451.5,596.5h1.2v1.2h-1.2zM451.5,599.0h1.2v1.2h-1.2zM451.5,599.5h1.2v1.2h-1.2zM451.5,600.0h1.2v1.2h-1.2zM451.5,604.0h1.2v1.2h-1.2zM451.5,605.0h1.2v1.2h-1.2zM451.5,606.5h1.2v1.2h-1.2zM451.5,608.0h1.2v1.2h-1.2zM451.5,608.5h1.2v1.2h-1.2zM451.5,612.5h1.2v1.2h-1.2zM451.5,621.0h1.2v1.2h-1.2zM451.5,624.0h1.2v1.2h-1.2zM452.0,595.5h1.2v1.2h-1.2zM452.0,597.0h1.2v1.2h-1.2zM452.0,599.0h1.2v1.2h-1.2zM452.0,599.5h1.2v1.2h-1.2zM452.0,600.0h1.2v1.2h-1.2zM452.0,600.5h1.2v1.2h-1.2zM452.0,602.5h1.2v1.2h-1.2zM452.0,604.0h1.2v1.2h-1.2zM452.0,605.5h1.2v1.2h-1.2zM452.0,618.0h1.2v1.2h-1.2zM452.0,620.0h1.2v1.2h-1.2zM452.0,620.5h1.2v1.2h-1.2zM452.5,588.0h1.2v1.2h-1.2zM452.5,593.0h1.2v1.2h-1.2zM452.5,602.5h1.2v1.2h-1.2zM452.5,604.5h1.2v1.2h-1.2zM452.5,610.5h1.2v1.2h-1.2zM452.5,611.0h1.2v1.2h-1.2zM452.5,612.5h1.2v1.2h-1.2zM452.5,620.0h1.2v1.2h-1.2zM452.5,621.5h1.2v1.2h-1.2zM452.5,629.5h1.2v1.2h-1.2zM453.0,588.5h1.2v1.2h-1.2zM453.0,596.5h1.2v1.2h-1.2zM453.0,597.0h1.2v1.2h-1.2zM453.0,597.5h1.2v1.2h-1.2zM453.0,599.0h1.2v1.2h-1.2zM453.0,602.0h1.2v1.2h-1.2zM453.0,602.5h1.2v1.2h-1.2zM453.0,603.0h1.2v1.2h-1.2zM453.0,603.5h1.2v1.2h-1.2zM453.0,606.0h1.2v1.2h-1.2zM453.0,609.0h1.2v1.2h-1.2zM453.0,616.0h1.2v1.2h-1.2zM453.0,621.5h1.2v1.2h-1.2zM453.0,629.0h1.2v1.2h-1.2zM453.5,587.5h1.2v1.2h-1.2zM453.5,590.0h1.2v1.2h-1.2zM453.5,593.5h1.2v1.2h-1.2zM453.5,598.5h1.2v1.2h-1.2zM453.5,601.0h1.2v1.2h-1.2zM453.5,603.5h1.2v1.2h-1.2zM453.5,604.5h1.2v1.2h-1.2zM453.5,605.0h1.2v1.2h-1.2zM453.5,606.5h1.2v1.2h-1.2zM453.5,611.5h1.2v1.2h-1.2zM453.5,616.0h1.2v1.2h-1.2zM453.5,623.0h1.2v1.2h-1.2zM453.5,626.0h1.2v1.2h-1.2zM454.0,597.0h1.2v1.2h-1.2zM454.0,597.5h1.2v1.2h-1.2zM454.0,598.0h1.2v1.2h-1.2zM454.0,598.5h1.2v1.2h-1.2zM454.0,599.5h1.2v1.2h-1.2zM454.0,601.0h1.2v1.2h-1.2zM454.0,602.0h1.2v1.2h-1.2zM454.0,603.0h1.2v1.2h-1.2zM454.0,615.0h1.2v1.2h-1.2zM454.0,616.0h1.2v1.2h-1.2zM454.0,625.5h1.2v1.2h-1.2zM454.5,588.5h1.2v1.2h-1.2zM454.5,593.5h1.2v1.2h-1.2zM454.5,599.0h1.2v1.2h-1.2zM454.5,599.5h1.2v1.2h-1.2zM454.5,604.0h1.2v1.2h-1.2zM454.5,604.5h1.2v1.2h-1.2zM454.5,611.5h1.2v1.2h-1.2zM454.5,616.5h1.2v1.2h-1.2zM454.5,622.0h1.2v1.2h-1.2zM454.5,622.5h1.2v1.2h-1.2zM455.0,590.5h1.2v1.2h-1.2zM455.0,598.0h1.2v1.2h-1.2zM455.0,598.5h1.2v1.2h-1.2zM455.0,599.5h1.2v1.2h-1.2zM455.0,600.5h1.2v1.2h-1.2zM455.0,602.0h1.2v1.2h-1.2zM455.0,607.5h1.2v1.2h-1.2zM455.0,608.5h1.2v1.2h-1.2zM455.0,609.0h1.2v1.2h-1.2zM455.0,614.5h1.2v1.2h-1.2zM455.0,616.5h1.2v1.2h-1.2zM455.5,590.0h1.2v1.2h-1.2zM455.5,593.5h1.2v1.2h-1.2zM455.5,594.5h1.2v1.2h-1.2zM455.5,596.0h1.2v1.2h-1.2zM455.5,597.5h1.2v1.2h-1.2zM455.5,599.0h1.2v1.2h-1.2zM455.5,600.0h1.2v1.2h-1.2zM455.5,600.5h1.2v1.2h-1.2zM455.5,601.0h1.2v1.2h-1.2zM455.5,603.0h1.2v1.2h-1.2zM455.5,603.5h1.2v1.2h-1.2zM455.5,607.5h1.2v1.2h-1.2zM455.5,611.0h1.2v1.2h-1.2zM455.5,615.5h1.2v1.2h-1.2zM455.5,616.5h1.2v1.2h-1.2zM455.5,618.0h1.2v1.2h-1.2zM455.5,627.0h1.2v1.2h-1.2zM456.0,587.0h1.2v1.2h-1.2zM456.0,593.0h1.2v1.2h-1.2zM456.0,593.5h1.2v1.2h-1.2zM456.0,594.5h1.2v1.2h-1.2zM456.0,595.0h1.2v1.2h-1.2zM456.0,597.0h1.2v1.2h-1.2zM456.0,598.0h1.2v1.2h-1.2zM456.0,598.5h1.2v1.2h-1.2zM456.0,599.0h1.2v1.2h-1.2zM456.0,600.0h1.2v1.2h-1.2zM456.0,600.5h1.2v1.2h-1.2zM456.0,602.5h1.2v1.2h-1.2zM456.0,604.0h1.2v1.2h-1.2zM456.0,604.5h1.2v1.2h-1.2zM456.0,617.0h1.2v1.2h-1.2zM456.5,595.0h1.2v1.2h-1.2zM456.5,596.0h1.2v1.2h-1.2zM456.5,596.5h1.2v1.2h-1.2zM456.5,597.5h1.2v1.2h-1.2zM456.5,599.0h1.2v1.2h-1.2zM456.5,599.5h1.2v1.2h-1.2zM456.5,600.0h1.2v1.2h-1.2zM456.5,600.5h1.2v1.2h-1.2zM456.5,601.0h1.2v1.2h-1.2zM456.5,608.0h1.2v1.2h-1.2zM456.5,610.0h1.2v1.2h-1.2zM456.5,619.0h1.2v1.2h-1.2zM456.5,621.5h1.2v1.2h-1.2zM457.0,593.0h1.2v1.2h-1.2zM457.0,596.5h1.2v1.2h-1.2zM457.0,597.5h1.2v1.2h-1.2zM457.0,599.0h1.2v1.2h-1.2zM457.0,601.5h1.2v1.2h-1.2zM457.0,602.0h1.2v1.2h-1.2zM457.0,604.0h1.2v1.2h-1.2zM457.0,611.0h1.2v1.2h-1.2zM457.5,592.0h1.2v1.2h-1.2zM457.5,595.5h1.2v1.2h-1.2zM457.5,597.5h1.2v1.2h-1.2zM457.5,598.0h1.2v1.2h-1.2zM457.5,598.5h1.2v1.2h-1.2zM457.5,599.0h1.2v1.2h-1.2zM457.5,601.0h1.2v1.2h-1.2zM457.5,602.5h1.2v1.2h-1.2zM457.5,611.0h1.2v1.2h-1.2zM457.5,619.0h1.2v1.2h-1.2zM457.5,623.0h1.2v1.2h-1.2zM458.0,589.5h1.2v1.2h-1.2zM458.0,592.0h1.2v1.2h-1.2zM458.0,593.0h1.2v1.2h-1.2zM458.0,596.5h1.2v1.2h-1.2zM458.0,597.5h1.2v1.2h-1.2zM458.0,598.5h1.2v1.2h-1.2zM458.0,599.0h1.2v1.2h-1.2zM458.0,601.5h1.2v1.2h-1.2zM458.0,602.5h1.2v1.2h-1.2zM458.0,604.5h1.2v1.2h-1.2zM458.0,609.0h1.2v1.2h-1.2zM458.0,614.0h1.2v1.2h-1.2zM458.5,594.0h1.2v1.2h-1.2zM458.5,597.0h1.2v1.2h-1.2zM458.5,600.0h1.2v1.2h-1.2zM458.5,601.0h1.2v1.2h-1.2zM458.5,603.5h1.2v1.2h-1.2zM458.5,604.0h1.2v1.2h-1.2zM458.5,608.0h1.2v1.2h-1.2zM458.5,609.0h1.2v1.2h-1.2zM458.5,613.5h1.2v1.2h-1.2zM459.0,591.5h1.2v1.2h-1.2zM459.0,594.5h1.2v1.2h-1.2zM459.0,596.0h1.2v1.2h-1.2zM459.0,596.5h1.2v1.2h-1.2zM459.0,598.0h1.2v1.2h-1.2zM459.0,599.0h1.2v1.2h-1.2zM459.0,599.5h1.2v1.2h-1.2zM459.0,600.0h1.2v1.2h-1.2zM459.0,604.5h1.2v1.2h-1.2zM459.0,609.0h1.2v1.2h-1.2zM459.0,610.0h1.2v1.2h-1.2zM459.0,610.5h1.2v1.2h-1.2zM459.0,619.0h1.2v1.2h-1.2zM459.0,625.0h1.2v1.2h-1.2zM459.5,591.5h1.2v1.2h-1.2zM459.5,594.0h1.2v1.2h-1.2zM459.5,594.5h1.2v1.2h-1.2zM459.5,598.0h1.2v1.2h-1.2zM459.5,599.0h1.2v1.2h-1.2zM459.5,600.0h1.2v1.2h-1.2zM459.5,601.0h1.2v1.2h-1.2zM459.5,602.5h1.2v1.2h-1.2zM459.5,605.0h1.2v1.2h-1.2zM459.5,607.0h1.2v1.2h-1.2zM459.5,616.0h1.2v1.2h-1.2zM459.5,621.5h1.2v1.2h-1.2zM460.0,597.0h1.2v1.2h-1.2zM460.0,597.5h1.2v1.2h-1.2zM460.0,603.0h1.2v1.2h-1.2zM460.0,605.5h1.2v1.2h-1.2zM460.0,606.5h1.2v1.2h-1.2zM460.0,619.0h1.2v1.2h-1.2zM460.0,621.0h1.2v1.2h-1.2zM460.5,594.0h1.2v1.2h-1.2zM460.5,596.5h1.2v1.2h-1.2zM460.5,598.0h1.2v1.2h-1.2zM460.5,599.5h1.2v1.2h-1.2zM460.5,614.0h1.2v1.2h-1.2zM460.5,620.0h1.2v1.2h-1.2zM460.5,622.5h1.2v1.2h-1.2zM460.5,623.0h1.2v1.2h-1.2zM460.5,625.0h1.2v1.2h-1.2zM461.0,592.0h1.2v1.2h-1.2zM461.0,592.5h1.2v1.2h-1.2zM461.0,599.0h1.2v1.2h-1.2zM461.0,600.0h1.2v1.2h-1.2zM461.0,603.0h1.2v1.2h-1.2zM461.0,613.5h1.2v1.2h-1.2zM461.0,616.0h1.2v1.2h-1.2zM461.5,594.0h1.2v1.2h-1.2zM461.5,594.5h1.2v1.2h-1.2zM461.5,595.0h1.2v1.2h-1.2zM461.5,595.5h1.2v1.2h-1.2zM461.5,596.0h1.2v1.2h-1.2zM461.5,598.5h1.2v1.2h-1.2zM461.5,601.0h1.2v1.2h-1.2zM461.5,601.5h1.2v1.2h-1.2zM461.5,605.5h1.2v1.2h-1.2zM461.5,606.0h1.2v1.2h-1.2zM461.5,614.0h1.2v1.2h-1.2zM462.0,595.0h1.2v1.2h-1.2zM462.0,598.5h1.2v1.2h-1.2zM462.0,600.0h1.2v1.2h-1.2zM462.0,607.0h1.2v1.2h-1.2zM462.5,591.0h1.2v1.2h-1.2zM462.5,592.0h1.2v1.2h-1.2zM462.5,596.0h1.2v1.2h-1.2zM462.5,598.0h1.2v1.2h-1.2zM462.5,598.5h1.2v1.2h-1.2zM462.5,599.0h1.2v1.2h-1.2zM462.5,603.0h1.2v1.2h-1.2zM462.5,603.5h1.2v1.2h-1.2zM462.5,615.5h1.2v1.2h-1.2zM463.0,592.0h1.2v1.2h-1.2zM463.0,593.0h1.2v1.2h-1.2zM463.0,594.0h1.2v1.2h-1.2zM463.0,596.5h1.2v1.2h-1.2zM463.0,598.5h1.2v1.2h-1.2zM463.0,600.5h1.2v1.2h-1.2zM463.0,604.5h1.2v1.2h-1.2zM463.0,615.0h1.2v1.2h-1.2zM463.0,616.0h1.2v1.2h-1.2zM463.0,617.5h1.2v1.2h-1.2zM463.5,595.0h1.2v1.2h-1.2zM463.5,598.0h1.2v1.2h-1.2zM463.5,599.0h1.2v1.2h-1.2zM463.5,602.5h1.2v1.2h-1.2zM464.0,595.0h1.2v1.2h-1.2zM464.5,594.0h1.2v1.2h-1.2zM464.5,601.0h1.2v1.2h-1.2zM464.5,602.5h1.2v1.2h-1.2zM464.5,603.5h1.2v1.2h-1.2zM465.0,589.5h1.2v1.2h-1.2zM465.0,593.0h1.2v1.2h-1.2zM465.0,597.0h1.2v1.2h-1.2zM465.0,597.5h1.2v1.2h-1.2zM465.0,598.5h1.2v1.2h-1.2zM465.0,599.0h1.2v1.2h-1.2zM465.0,621.5h1.2v1.2h-1.2zM465.5,601.0h1.2v1.2h-1.2zM465.5,601.5h1.2v1.2h-1.2zM465.5,605.5h1.2v1.2h-1.2zM465.5,610.0h1.2v1.2h-1.2zM466.0,595.0h1.2v1.2h-1.2zM466.0,599.0h1.2v1.2h-1.2zM466.0,614.0h1.2v1.2h-1.2zM466.5,593.0h1.2v1.2h-1.2zM466.5,596.0h1.2v1.2h-1.2zM466.5,607.0h1.2v1.2h-1.2zM467.0,597.5h1.2v1.2h-1.2zM467.0,600.5h1.2v1.2h-1.2zM467.0,603.0h1.2v1.2h-1.2zM467.0,615.5h1.2v1.2h-1.2zM467.5,596.5h1.2v1.2h-1.2zM467.5,601.5h1.2v1.2h-1.2zM468.0,593.0h1.2v1.2h-1.2zM468.0,595.5h1.2v1.2h-1.2zM468.0,598.0h1.2v1.2h-1.2zM468.0,613.0h1.2v1.2h-1.2zM468.5,599.5h1.2v1.2h-1.2zM469.0,592.0h1.2v1.2h-1.2zM469.0,594.0h1.2v1.2h-1.2zM469.0,596.5h1.2v1.2h-1.2zM469.0,599.5h1.2v1.2h-1.2zM469.0,600.5h1.2v1.2h-1.2zM469.0,607.0h1.2v1.2h-1.2zM469.5,592.5h1.2v1.2h-1.2zM469.5,594.0h1.2v1.2h-1.2zM469.5,594.5h1.2v1.2h-1.2zM469.5,595.5h1.2v1.2h-1.2zM469.5,600.0h1.2v1.2h-1.2zM470.0,599.0h1.2v1.2h-1.2zM470.0,600.0h1.2v1.2h-1.2zM470.0,602.0h1.2v1.2h-1.2zM470.5,595.5h1.2v1.2h-1.2zM470.5,598.0h1.2v1.2h-1.2zM470.5,615.5h1.2v1.2h-1.2zM470.5,616.5h1.2v1.2h-1.2zM470.5,618.0h1.2v1.2h-1.2zM471.0,596.0h1.2v1.2h-1.2zM471.0,604.0h1.2v1.2h-1.2zM471.0,605.0h1.2v1.2h-1.2zM471.5,598.5h1.2v1.2h-1.2zM471.5,603.5h1.2v1.2h-1.2zM471.5,615.5h1.2v1.2h-1.2zM471.5,620.0h1.2v1.2h-1.2zM472.0,592.0h1.2v1.2h-1.2zM472.0,604.0h1.2v1.2h-1.2zM472.0,610.0h1.2v1.2h-1.2zM472.5,597.0h1.2v1.2h-1.2zM472.5,598.0h1.2v1.2h-1.2zM472.5,600.5h1.2v1.2h-1.2zM472.5,601.5h1.2v1.2h-1.2zM472.5,602.0h1.2v1.2h-1.2zM472.5,606.0h1.2v1.2h-1.2zM473.0,595.5h1.2v1.2h-1.2zM473.0,596.5h1.2v1.2h-1.2zM473.0,598.5h1.2v1.2h-1.2zM473.0,605.0h1.2v1.2h-1.2zM473.0,606.0h1.2v1.2h-1.2zM473.0,618.0h1.2v1.2h-1.2zM473.5,599.5h1.2v1.2h-1.2zM473.5,601.5h1.2v1.2h-1.2zM473.5,612.5h1.2v1.2h-1.2zM474.0,597.0h1.2v1.2h-1.2zM474.0,599.0h1.2v1.2h-1.2zM474.0,600.0h1.2v1.2h-1.2zM474.0,605.0h1.2v1.2h-1.2zM474.0,606.0h1.2v1.2h-1.2zM474.0,616.5h1.2v1.2h-1.2zM474.5,595.5h1.2v1.2h-1.2zM474.5,598.5h1.2v1.2h-1.2zM474.5,600.0h1.2v1.2h-1.2zM474.5,602.5h1.2v1.2h-1.2zM474.5,608.5h1.2v1.2h-1.2zM474.5,610.5h1.2v1.2h-1.2zM475.0,590.5h1.2v1.2h-1.2zM475.0,592.0h1.2v1.2h-1.2zM475.0,594.0h1.2v1.2h-1.2zM475.0,595.0h1.2v1.2h-1.2zM475.0,601.5h1.2v1.2h-1.2zM475.0,602.5h1.2v1.2h-1.2zM475.0,604.0h1.2v1.2h-1.2zM475.0,604.5h1.2v1.2h-1.2zM475.0,606.5h1.2v1.2h-1.2zM475.0,608.0h1.2v1.2h-1.2zM475.0,611.5h1.2v1.2h-1.2zM475.0,612.0h1.2v1.2h-1.2zM475.5,592.0h1.2v1.2h-1.2zM475.5,593.0h1.2v1.2h-1.2zM475.5,595.5h1.2v1.2h-1.2zM475.5,596.5h1.2v1.2h-1.2zM475.5,597.0h1.2v1.2h-1.2zM475.5,602.0h1.2v1.2h-1.2zM475.5,602.5h1.2v1.2h-1.2zM475.5,603.0h1.2v1.2h-1.2zM475.5,603.5h1.2v1.2h-1.2zM475.5,604.5h1.2v1.2h-1.2zM476.0,590.0h1.2v1.2h-1.2zM476.0,594.0h1.2v1.2h-1.2zM476.0,598.5h1.2v1.2h-1.2zM476.0,599.0h1.2v1.2h-1.2zM476.0,601.5h1.2v1.2h-1.2zM476.0,603.0h1.2v1.2h-1.2zM476.0,604.0h1.2v1.2h-1.2zM476.0,620.0h1.2v1.2h-1.2zM476.5,594.5h1.2v1.2h-1.2zM476.5,595.0h1.2v1.2h-1.2zM476.5,595.5h1.2v1.2h-1.2zM476.5,596.0h1.2v1.2h-1.2zM476.5,597.0h1.2v1.2h-1.2zM476.5,597.5h1.2v1.2h-1.2zM476.5,600.5h1.2v1.2h-1.2zM476.5,603.5h1.2v1.2h-1.2zM477.0,592.0h1.2v1.2h-1.2zM477.0,598.0h1.2v1.2h-1.2zM477.0,600.0h1.2v1.2h-1.2zM477.0,602.0h1.2v1.2h-1.2zM477.0,602.5h1.2v1.2h-1.2zM477.0,604.5h1.2v1.2h-1.2zM477.5,590.0h1.2v1.2h-1.2zM477.5,596.0h1.2v1.2h-1.2zM477.5,596.5h1.2v1.2h-1.2zM477.5,597.0h1.2v1.2h-1.2zM477.5,601.0h1.2v1.2h-1.2zM477.5,602.0h1.2v1.2h-1.2zM477.5,609.0h1.2v1.2h-1.2zM478.0,593.0h1.2v1.2h-1.2zM478.0,595.5h1.2v1.2h-1.2zM478.0,596.0h1.2v1.2h-1.2zM478.0,597.0h1.2v1.2h-1.2zM478.0,597.5h1.2v1.2h-1.2zM478.0,598.5h1.2v1.2h-1.2zM478.0,599.5h1.2v1.2h-1.2zM478.0,600.5h1.2v1.2h-1.2zM478.0,601.5h1.2v1.2h-1.2zM478.0,605.0h1.2v1.2h-1.2zM478.0,605.5h1.2v1.2h-1.2zM478.0,608.0h1.2v1.2h-1.2zM478.0,608.5h1.2v1.2h-1.2zM478.0,610.0h1.2v1.2h-1.2zM478.0,612.0h1.2v1.2h-1.2zM478.0,613.0h1.2v1.2h-1.2zM478.0,622.5h1.2v1.2h-1.2zM478.5,590.5h1.2v1.2h-1.2zM478.5,594.5h1.2v1.2h-1.2zM478.5,595.5h1.2v1.2h-1.2zM478.5,597.5h1.2v1.2h-1.2zM478.5,600.0h1.2v1.2h-1.2zM478.5,615.0h1.2v1.2h-1.2zM479.0,592.0h1.2v1.2h-1.2zM479.0,596.0h1.2v1.2h-1.2zM479.0,597.5h1.2v1.2h-1.2zM479.0,603.0h1.2v1.2h-1.2zM479.0,606.0h1.2v1.2h-1.2zM479.0,606.5h1.2v1.2h-1.2zM479.5,586.5h1.2v1.2h-1.2zM479.5,590.5h1.2v1.2h-1.2zM479.5,591.5h1.2v1.2h-1.2zM479.5,594.5h1.2v1.2h-1.2zM479.5,595.5h1.2v1.2h-1.2zM479.5,596.0h1.2v1.2h-1.2zM479.5,598.0h1.2v1.2h-1.2zM479.5,600.0h1.2v1.2h-1.2zM479.5,600.5h1.2v1.2h-1.2zM479.5,603.0h1.2v1.2h-1.2zM479.5,604.0h1.2v1.2h-1.2zM479.5,610.0h1.2v1.2h-1.2zM480.0,595.0h1.2v1.2h-1.2zM480.0,595.5h1.2v1.2h-1.2zM480.0,601.0h1.2v1.2h-1.2zM480.0,602.0h1.2v1.2h-1.2zM480.0,603.5h1.2v1.2h-1.2zM480.0,604.0h1.2v1.2h-1.2zM480.5,591.0h1.2v1.2h-1.2zM480.5,593.0h1.2v1.2h-1.2zM480.5,594.0h1.2v1.2h-1.2zM480.5,596.5h1.2v1.2h-1.2zM480.5,597.5h1.2v1.2h-1.2zM480.5,598.0h1.2v1.2h-1.2zM480.5,598.5h1.2v1.2h-1.2zM480.5,602.0h1.2v1.2h-1.2zM480.5,606.5h1.2v1.2h-1.2zM480.5,607.0h1.2v1.2h-1.2zM481.0,592.0h1.2v1.2h-1.2zM481.0,593.5h1.2v1.2h-1.2zM481.0,596.0h1.2v1.2h-1.2zM481.0,596.5h1.2v1.2h-1.2zM481.0,598.0h1.2v1.2h-1.2zM481.0,598.5h1.2v1.2h-1.2zM481.0,600.0h1.2v1.2h-1.2zM481.0,600.5h1.2v1.2h-1.2zM481.0,603.5h1.2v1.2h-1.2zM481.5,591.5h1.2v1.2h-1.2zM481.5,593.5h1.2v1.2h-1.2zM481.5,599.5h1.2v1.2h-1.2zM482.0,585.5h1.2v1.2h-1.2zM482.0,588.5h1.2v1.2h-1.2zM482.0,592.0h1.2v1.2h-1.2zM482.0,594.0h1.2v1.2h-1.2zM482.0,597.0h1.2v1.2h-1.2zM482.0,598.5h1.2v1.2h-1.2zM482.0,600.5h1.2v1.2h-1.2zM482.0,601.0h1.2v1.2h-1.2zM482.0,602.0h1.2v1.2h-1.2zM482.0,602.5h1.2v1.2h-1.2zM482.0,603.0h1.2v1.2h-1.2zM482.0,605.5h1.2v1.2h-1.2zM482.0,606.0h1.2v1.2h-1.2zM482.0,611.0h1.2v1.2h-1.2zM482.5,594.5h1.2v1.2h-1.2zM482.5,595.5h1.2v1.2h-1.2zM482.5,597.0h1.2v1.2h-1.2zM482.5,600.5h1.2v1.2h-1.2zM482.5,602.5h1.2v1.2h-1.2zM482.5,603.5h1.2v1.2h-1.2zM482.5,613.5h1.2v1.2h-1.2zM483.0,591.5h1.2v1.2h-1.2zM483.0,593.0h1.2v1.2h-1.2zM483.0,595.5h1.2v1.2h-1.2zM483.0,596.0h1.2v1.2h-1.2zM483.0,597.0h1.2v1.2h-1.2zM483.0,598.0h1.2v1.2h-1.2zM483.0,602.5h1.2v1.2h-1.2zM483.0,603.5h1.2v1.2h-1.2zM483.5,587.5h1.2v1.2h-1.2zM483.5,590.5h1.2v1.2h-1.2zM483.5,596.5h1.2v1.2h-1.2zM483.5,599.0h1.2v1.2h-1.2zM483.5,602.0h1.2v1.2h-1.2zM483.5,602.5h1.2v1.2h-1.2zM483.5,603.5h1.2v1.2h-1.2zM483.5,606.5h1.2v1.2h-1.2zM484.0,591.0h1.2v1.2h-1.2zM484.0,592.0h1.2v1.2h-1.2zM484.0,593.0h1.2v1.2h-1.2zM484.0,594.0h1.2v1.2h-1.2zM484.0,595.0h1.2v1.2h-1.2zM484.0,597.0h1.2v1.2h-1.2zM484.0,599.5h1.2v1.2h-1.2zM484.0,602.5h1.2v1.2h-1.2zM484.0,603.0h1.2v1.2h-1.2zM484.0,603.5h1.2v1.2h-1.2zM484.0,604.0h1.2v1.2h-1.2zM484.0,604.5h1.2v1.2h-1.2zM484.0,607.5h1.2v1.2h-1.2zM484.5,590.0h1.2v1.2h-1.2zM484.5,590.5h1.2v1.2h-1.2zM484.5,595.0h1.2v1.2h-1.2zM484.5,599.5h1.2v1.2h-1.2zM484.5,602.0h1.2v1.2h-1.2zM484.5,605.5h1.2v1.2h-1.2zM485.0,593.5h1.2v1.2h-1.2zM485.0,597.0h1.2v1.2h-1.2zM485.0,599.0h1.2v1.2h-1.2zM485.0,601.5h1.2v1.2h-1.2zM485.0,602.5h1.2v1.2h-1.2zM485.0,603.5h1.2v1.2h-1.2zM485.0,606.5h1.2v1.2h-1.2zM485.5,599.5h1.2v1.2h-1.2zM486.0,595.0h1.2v1.2h-1.2zM486.0,596.5h1.2v1.2h-1.2zM486.0,601.0h1.2v1.2h-1.2zM486.0,601.5h1.2v1.2h-1.2zM486.0,604.0h1.2v1.2h-1.2zM486.5,591.5h1.2v1.2h-1.2zM486.5,592.5h1.2v1.2h-1.2zM486.5,594.5h1.2v1.2h-1.2zM486.5,601.5h1.2v1.2h-1.2zM486.5,606.5h1.2v1.2h-1.2zM487.0,601.5h1.2v1.2h-1.2zM487.0,603.5h1.2v1.2h-1.2zM487.0,605.5h1.2v1.2h-1.2zM487.0,615.0h1.2v1.2h-1.2zM487.5,584.0h1.2v1.2h-1.2zM487.5,596.0h1.2v1.2h-1.2zM487.5,597.5h1.2v1.2h-1.2zM487.5,599.5h1.2v1.2h-1.2zM488.0,595.0h1.2v1.2h-1.2zM488.0,604.0h1.2v1.2h-1.2zM488.5,598.0h1.2v1.2h-1.2zM489.0,593.0h1.2v1.2h-1.2zM489.0,601.5h1.2v1.2h-1.2zM489.0,605.0h1.2v1.2h-1.2zM490.0,601.0h1.2v1.2h-1.2zM490.0,609.5h1.2v1.2h-1.2zM490.5,576.5h1.2v1.2h-1.2zM490.5,590.5h1.2v1.2h-1.2zM492.0,598.5h1.2v1.2h-1.2zM492.5,597.0h1.2v1.2h-1.2zM492.5,600.0h1.2v1.2h-1.2zM495.5,599.5h1.2v1.2h-1.2zM496.0,589.0h1.2v1.2h-1.2zM496.0,589.5h1.2v1.2h-1.2zM498.5,577.5h1.2v1.2h-1.2zM499.0,582.5h1.2v1.2h-1.2zM503.5,580.0h1.2v1.2h-1.2z"/>
<rect x="436.0" y="557.2" width="82.29999999999995" height="74.59999999999991" fill="none" stroke="#000" stroke-width="1.2"/>
<line x1="463.7" y1="557.2" x2="463.7" y2="631.8" stroke="#000" stroke-width="1.3"/>
<line x1="436.0" y1="606.6" x2="518.3" y2="606.6" stroke="#000" stroke-width="1.3"/>
<path d="M432.2,631.80H436.0M433.8,626.19H436.0M433.8,622.90H436.0M433.8,620.57H436.0M433.8,618.76H436.0M433.8,617.29H436.0M433.8,616.04H436.0M433.8,614.96H436.0M433.8,614.00H436.0M432.2,613.15H436.0M433.8,607.54H436.0M433.8,604.25H436.0M433.8,601.92H436.0M433.8,600.11H436.0M433.8,598.64H436.0M433.8,597.39H436.0M433.8,596.31H436.0M433.8,595.35H436.0M432.2,594.50H436.0M433.8,588.89H436.0M433.8,585.60H436.0M433.8,583.27H436.0M433.8,581.46H436.0M433.8,579.99H436.0M433.8,578.74H436.0M433.8,577.66H436.0M433.8,576.70H436.0M432.2,575.85H436.0M433.8,570.24H436.0M433.8,566.95H436.0M433.8,564.62H436.0M433.8,562.81H436.0M433.8,561.34H436.0M433.8,560.09H436.0M433.8,559.01H436.0M433.8,558.05H436.0M436.00,631.8V636.3M442.19,631.8V634.4M445.82,631.8V634.4M448.39,631.8V634.4M450.38,631.8V634.4M452.01,631.8V634.4M453.39,631.8V634.4M454.58,631.8V634.4M455.63,631.8V634.4M456.57,631.8V636.3M462.77,631.8V634.4M466.39,631.8V634.4M468.96,631.8V634.4M470.96,631.8V634.4M472.59,631.8V634.4M473.96,631.8V634.4M475.16,631.8V634.4M476.21,631.8V634.4M477.15,631.8V636.3M483.34,631.8V634.4M486.97,631.8V634.4M489.54,631.8V634.4M491.53,631.8V634.4M493.16,631.8V634.4M494.54,631.8V634.4M495.73,631.8V634.4M496.78,631.8V634.4M497.72,631.8V636.3M503.92,631.8V634.4M507.54,631.8V634.4M510.11,631.8V634.4M512.11,631.8V634.4M513.74,631.8V634.4M515.11,631.8V634.4M516.31,631.8V634.4M517.36,631.8V634.4M518.30,631.8V636.3" stroke="#000" stroke-width="1" fill="none"/>
</svg></body></html>
